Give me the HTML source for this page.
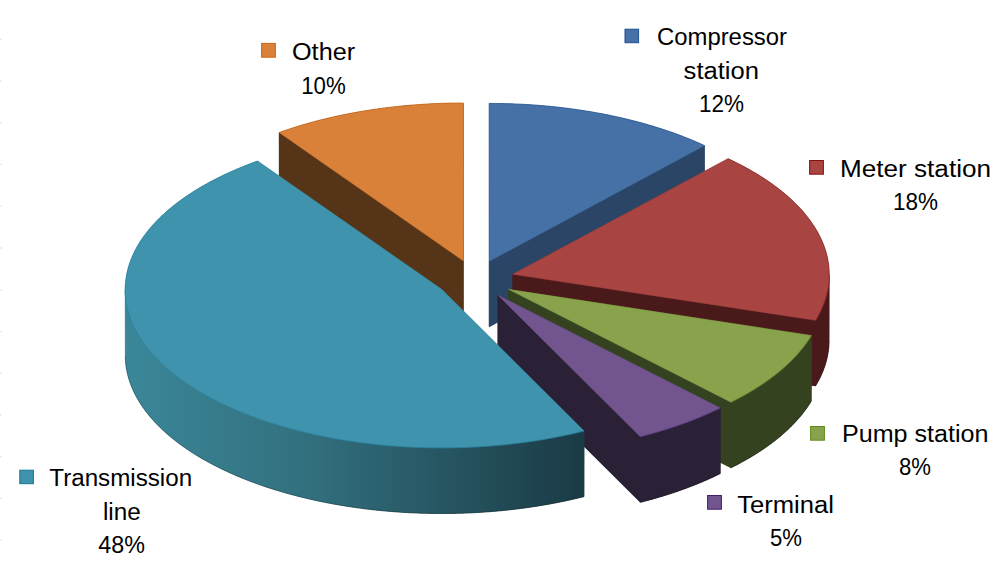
<!DOCTYPE html>
<html><head><meta charset="utf-8"><style>
html,body{margin:0;padding:0;background:#fff;}
svg{display:block;}
text{font-family:"Liberation Sans",sans-serif;font-size:23px;fill:#000;}
</style></head><body>
<svg width="1000" height="574" viewBox="0 0 1000 574">
<defs><linearGradient id="g_teal" gradientUnits="userSpaceOnUse" x1="125" y1="0" x2="585" y2="0"><stop offset="0%" stop-color="#3A8799"/><stop offset="38%" stop-color="#33717F"/><stop offset="100%" stop-color="#1A3A45"/></linearGradient><linearGradient id="g_red" gradientUnits="userSpaceOnUse" x1="125" y1="0" x2="585" y2="0"><stop offset="0%" stop-color="#4A1A1A"/><stop offset="100%" stop-color="#4A1A1A"/></linearGradient><linearGradient id="g_green" gradientUnits="userSpaceOnUse" x1="125" y1="0" x2="585" y2="0"><stop offset="0%" stop-color="#354220"/><stop offset="100%" stop-color="#354220"/></linearGradient><linearGradient id="g_purple" gradientUnits="userSpaceOnUse" x1="125" y1="0" x2="585" y2="0"><stop offset="0%" stop-color="#2A2136"/><stop offset="100%" stop-color="#2A2136"/></linearGradient><linearGradient id="g_blue" gradientUnits="userSpaceOnUse" x1="125" y1="0" x2="585" y2="0"><stop offset="0%" stop-color="#2B4566"/><stop offset="100%" stop-color="#2B4566"/></linearGradient><linearGradient id="g_orange" gradientUnits="userSpaceOnUse" x1="125" y1="0" x2="585" y2="0"><stop offset="0%" stop-color="#553418"/><stop offset="100%" stop-color="#553418"/></linearGradient></defs>
<rect width="1000" height="574" fill="#fff"/>
<rect x="0" y="38.7" width="1.5" height="1.2" fill="#dddddd"/><rect x="0" y="80.5" width="1.5" height="1.2" fill="#dddddd"/><rect x="0" y="122.2" width="1.5" height="1.2" fill="#dddddd"/><rect x="0" y="163.9" width="1.5" height="1.2" fill="#dddddd"/><rect x="0" y="205.7" width="1.5" height="1.2" fill="#dddddd"/><rect x="0" y="247.4" width="1.5" height="1.2" fill="#dddddd"/><rect x="0" y="289.2" width="1.5" height="1.2" fill="#dddddd"/><rect x="0" y="330.9" width="1.5" height="1.2" fill="#dddddd"/><rect x="0" y="372.7" width="1.5" height="1.2" fill="#dddddd"/><rect x="0" y="414.4" width="1.5" height="1.2" fill="#dddddd"/><rect x="0" y="456.2" width="1.5" height="1.2" fill="#dddddd"/><rect x="0" y="497.9" width="1.5" height="1.2" fill="#dddddd"/><rect x="0" y="539.7" width="1.5" height="1.2" fill="#dddddd"/>
<polygon fill="#553418" points="463.18,168.46 463.16,326.26 279.21,197.97 279.15,132.50 281.37,131.71 283.61,130.93 285.87,130.17 288.13,129.41 290.41,128.66 292.70,127.92 295.01,127.19 297.33,126.47 299.66,125.76 302.00,125.06 304.35,124.37 306.72,123.69 309.09,123.02 311.48,122.36 313.88,121.72 316.29,121.08 318.72,120.45 321.15,119.83 323.59,119.23 326.04,118.63 328.51,118.05 330.98,117.47 333.47,116.91 335.96,116.35 338.46,115.81 340.97,115.28 343.49,114.76 346.02,114.25 348.56,113.75 351.11,113.26 353.66,112.78 356.23,112.32 358.80,111.86 361.38,111.42 363.96,110.99 366.56,110.56 369.16,110.15 371.77,109.75 374.38,109.37 377.00,108.99 379.63,108.62 382.26,108.27 384.90,107.93 387.55,107.59 390.20,107.27 392.86,106.97 395.52,106.67 398.19,106.38 400.86,106.11 403.53,105.85 406.22,105.60 408.90,105.36 411.59,105.13 414.28,104.91 416.98,104.71 419.68,104.51 422.38,104.33 425.09,104.16 427.80,104.00 430.51,103.86 433.22,103.72 435.94,103.60 438.66,103.49 441.38,103.39 444.10,103.30 446.82,103.22 449.55,103.16 452.27,103.11 455.00,103.07 457.73,103.04 460.45,103.02 463.18,103.01"/>
<polygon fill="#553418" stroke="#553418" stroke-width="0.6" stroke-linejoin="round" points="463.15,260.71 279.15,132.50 279.21,197.97 463.16,326.26"/>
<polygon fill="#553418" stroke="#553418" stroke-width="0.6" stroke-linejoin="round" points="463.15,260.71 463.18,103.01 463.18,168.46 463.16,326.26"/>
<polygon fill="#D98039" stroke="#D98039" stroke-width="0.5" stroke-linejoin="round" points="463.15,260.71 279.15,132.50 280.27,132.10 281.39,131.71 282.52,131.31 283.64,130.92 284.78,130.53 285.91,130.15 287.05,129.77 288.20,129.39 289.34,129.01 290.49,128.63 291.64,128.26 292.80,127.89 293.96,127.52 295.12,127.15 296.29,126.79 297.46,126.43 298.63,126.07 299.80,125.72 300.98,125.36 302.16,125.01 303.35,124.66 304.53,124.32 305.72,123.98 306.92,123.64 308.11,123.30 309.31,122.96 310.51,122.63 311.72,122.30 312.93,121.97 314.14,121.65 315.35,121.33 316.56,121.01 317.78,120.69 319.00,120.38 320.23,120.07 321.46,119.76 322.68,119.45 323.92,119.15 325.15,118.85 326.39,118.55 327.63,118.25 328.87,117.96 330.12,117.67 331.36,117.38 332.61,117.10 333.87,116.82 335.12,116.54 336.38,116.26 337.64,115.99 338.90,115.72 340.16,115.45 341.43,115.18 342.70,114.92 343.97,114.66 345.24,114.40 346.52,114.15 347.80,113.90 349.08,113.65 350.36,113.40 351.64,113.16 352.93,112.92 354.22,112.68 355.51,112.45 356.80,112.21 358.10,111.99 359.39,111.76 360.69,111.54 361.99,111.31 363.29,111.10 364.60,110.88 365.90,110.67 367.21,110.46 368.52,110.25 369.83,110.05 371.15,109.85 372.46,109.65 373.78,109.45 375.09,109.26 376.41,109.07 377.74,108.89 379.06,108.70 380.38,108.52 381.71,108.34 383.04,108.17 384.37,107.99 385.70,107.83 387.03,107.66 388.36,107.50 389.70,107.33 391.04,107.18 392.37,107.02 393.71,106.87 395.05,106.72 396.40,106.57 397.74,106.43 399.08,106.29 400.43,106.15 401.77,106.02 403.12,105.89 404.47,105.76 405.82,105.63 407.17,105.51 408.52,105.39 409.88,105.27 411.23,105.16 412.59,105.05 413.94,104.94 415.30,104.83 416.66,104.73 418.02,104.63 419.38,104.53 420.74,104.44 422.10,104.35 423.46,104.26 424.82,104.18 426.19,104.10 427.55,104.02 428.92,103.94 430.28,103.87 431.65,103.80 433.01,103.73 434.38,103.67 435.75,103.61 437.12,103.55 438.49,103.49 439.86,103.44 441.23,103.39 442.60,103.35 443.97,103.30 445.34,103.26 446.71,103.23 448.08,103.19 449.45,103.16 450.82,103.13 452.20,103.11 453.57,103.09 454.94,103.07 456.31,103.05 457.69,103.04 459.06,103.03 460.43,103.02 461.81,103.01 463.18,103.01"/>
<polyline fill="none" stroke="#C0600F" stroke-opacity="0.55" stroke-width="0.9" points="279.15,132.50 280.27,132.10 281.39,131.71 282.52,131.31 283.64,130.92 284.78,130.53 285.91,130.15 287.05,129.77 288.20,129.39 289.34,129.01 290.49,128.63 291.64,128.26 292.80,127.89 293.96,127.52 295.12,127.15 296.29,126.79 297.46,126.43 298.63,126.07 299.80,125.72 300.98,125.36 302.16,125.01 303.35,124.66 304.53,124.32 305.72,123.98 306.92,123.64 308.11,123.30 309.31,122.96 310.51,122.63 311.72,122.30 312.93,121.97 314.14,121.65 315.35,121.33 316.56,121.01 317.78,120.69 319.00,120.38 320.23,120.07 321.46,119.76 322.68,119.45 323.92,119.15 325.15,118.85 326.39,118.55 327.63,118.25 328.87,117.96 330.12,117.67 331.36,117.38 332.61,117.10 333.87,116.82 335.12,116.54 336.38,116.26 337.64,115.99 338.90,115.72 340.16,115.45 341.43,115.18 342.70,114.92 343.97,114.66 345.24,114.40 346.52,114.15 347.80,113.90 349.08,113.65 350.36,113.40 351.64,113.16 352.93,112.92 354.22,112.68 355.51,112.45 356.80,112.21 358.10,111.99 359.39,111.76 360.69,111.54 361.99,111.31 363.29,111.10 364.60,110.88 365.90,110.67 367.21,110.46 368.52,110.25 369.83,110.05 371.15,109.85 372.46,109.65 373.78,109.45 375.09,109.26 376.41,109.07 377.74,108.89 379.06,108.70 380.38,108.52 381.71,108.34 383.04,108.17 384.37,107.99 385.70,107.83 387.03,107.66 388.36,107.50 389.70,107.33 391.04,107.18 392.37,107.02 393.71,106.87 395.05,106.72 396.40,106.57 397.74,106.43 399.08,106.29 400.43,106.15 401.77,106.02 403.12,105.89 404.47,105.76 405.82,105.63 407.17,105.51 408.52,105.39 409.88,105.27 411.23,105.16 412.59,105.05 413.94,104.94 415.30,104.83 416.66,104.73 418.02,104.63 419.38,104.53 420.74,104.44 422.10,104.35 423.46,104.26 424.82,104.18 426.19,104.10 427.55,104.02 428.92,103.94 430.28,103.87 431.65,103.80 433.01,103.73 434.38,103.67 435.75,103.61 437.12,103.55 438.49,103.49 439.86,103.44 441.23,103.39 442.60,103.35 443.97,103.30 445.34,103.26 446.71,103.23 448.08,103.19 449.45,103.16 450.82,103.13 452.20,103.11 453.57,103.09 454.94,103.07 456.31,103.05 457.69,103.04 459.06,103.03 460.43,103.02 461.81,103.01 463.18,103.01"/>
<polygon fill="#2B4566" points="489.36,326.68 489.33,168.88 489.34,103.43 492.09,103.43 494.84,103.45 497.59,103.48 500.34,103.52 503.09,103.58 505.83,103.64 508.58,103.72 511.32,103.81 514.07,103.91 516.81,104.02 519.55,104.15 522.28,104.29 525.02,104.44 527.75,104.60 530.48,104.77 533.20,104.95 535.93,105.15 538.65,105.36 541.36,105.58 544.07,105.81 546.78,106.05 549.48,106.31 552.18,106.58 554.87,106.86 557.56,107.15 560.25,107.45 562.92,107.76 565.60,108.09 568.26,108.42 570.92,108.77 573.58,109.13 576.23,109.50 578.87,109.89 581.50,110.28 584.13,110.69 586.75,111.11 589.37,111.53 591.97,111.97 594.57,112.43 597.16,112.89 599.74,113.36 602.32,113.85 604.88,114.34 607.44,114.85 609.99,115.37 612.53,115.90 615.06,116.44 617.58,116.99 620.09,117.55 622.59,118.13 625.08,118.71 627.56,119.31 630.03,119.91 632.48,120.53 634.93,121.16 637.37,121.79 639.80,122.44 642.21,123.10 644.61,123.77 647.01,124.45 649.38,125.14 651.75,125.84 654.11,126.55 656.45,127.27 658.78,128.00 661.10,128.74 663.40,129.50 665.69,130.26 667.97,131.03 670.24,131.81 672.49,132.60 674.72,133.40 676.95,134.21 679.16,135.03 681.35,135.86 683.53,136.70 685.69,137.55 687.85,138.41 689.98,139.27 692.10,140.15 694.21,141.03 696.30,141.93 698.37,142.83 700.43,143.75 702.47,144.67 704.50,145.60 704.43,211.07"/>
<polygon fill="#2B4566" stroke="#2B4566" stroke-width="0.6" stroke-linejoin="round" points="489.37,261.13 489.34,103.43 489.33,168.88 489.36,326.68"/>
<polygon fill="#2B4566" stroke="#2B4566" stroke-width="0.6" stroke-linejoin="round" points="489.37,261.13 704.50,145.60 704.43,211.07 489.36,326.68"/>
<polygon fill="#4571A6" stroke="#4571A6" stroke-width="0.5" stroke-linejoin="round" points="489.37,261.13 489.34,103.43 490.71,103.43 492.09,103.43 493.46,103.44 494.84,103.45 496.21,103.46 497.59,103.48 498.96,103.50 500.34,103.52 501.71,103.55 503.09,103.58 504.46,103.61 505.83,103.64 507.21,103.68 508.58,103.72 509.95,103.76 511.32,103.81 512.70,103.86 514.07,103.91 515.44,103.97 516.81,104.02 518.18,104.09 519.55,104.15 520.92,104.22 522.28,104.29 523.65,104.36 525.02,104.44 526.38,104.51 527.75,104.60 529.12,104.68 530.48,104.77 531.84,104.86 533.20,104.95 534.57,105.05 535.93,105.15 537.29,105.25 538.65,105.36 540.00,105.47 541.36,105.58 542.72,105.69 544.07,105.81 545.43,105.93 546.78,106.05 548.13,106.18 549.48,106.31 550.83,106.44 552.18,106.58 553.53,106.71 554.87,106.86 556.22,107.00 557.56,107.15 558.91,107.30 560.25,107.45 561.59,107.60 562.92,107.76 564.26,107.92 565.60,108.09 566.93,108.25 568.26,108.42 569.59,108.60 570.92,108.77 572.25,108.95 573.58,109.13 574.90,109.32 576.23,109.50 577.55,109.69 578.87,109.89 580.19,110.08 581.50,110.28 582.82,110.48 584.13,110.69 585.44,110.90 586.75,111.11 588.06,111.32 589.37,111.53 590.67,111.75 591.97,111.97 593.27,112.20 594.57,112.43 595.87,112.66 597.16,112.89 598.45,113.12 599.74,113.36 601.03,113.60 602.32,113.85 603.60,114.09 604.88,114.34 606.16,114.60 607.44,114.85 608.71,115.11 609.99,115.37 611.26,115.63 612.53,115.90 613.79,116.17 615.06,116.44 616.32,116.71 617.58,116.99 618.83,117.27 620.09,117.55 621.34,117.84 622.59,118.13 623.83,118.42 625.08,118.71 626.32,119.01 627.56,119.31 628.79,119.61 630.03,119.91 631.26,120.22 632.48,120.53 633.71,120.84 634.93,121.16 636.15,121.47 637.37,121.79 638.58,122.12 639.80,122.44 641.00,122.77 642.21,123.10 643.41,123.43 644.61,123.77 645.81,124.11 647.01,124.45 648.20,124.79 649.38,125.14 650.57,125.49 651.75,125.84 652.93,126.20 654.11,126.55 655.28,126.91 656.45,127.27 657.62,127.64 658.78,128.00 659.94,128.37 661.10,128.74 662.25,129.12 663.40,129.50 664.55,129.88 665.69,130.26 666.83,130.64 667.97,131.03 669.11,131.42 670.24,131.81 671.36,132.20 672.49,132.60 673.61,133.00 674.72,133.40 675.84,133.80 676.95,134.21 678.05,134.62 679.16,135.03 680.25,135.44 681.35,135.86 682.44,136.28 683.53,136.70 684.61,137.12 685.69,137.55 686.77,137.98 687.85,138.41 688.91,138.84 689.98,139.27 691.04,139.71 692.10,140.15 693.16,140.59 694.21,141.03 695.25,141.48 696.30,141.93 697.33,142.38 698.37,142.83 699.40,143.29 700.43,143.75 701.45,144.21 702.47,144.67 703.49,145.13 704.50,145.60"/>
<polyline fill="none" stroke="#1F4F91" stroke-opacity="0.55" stroke-width="0.9" points="489.34,103.43 490.71,103.43 492.09,103.43 493.46,103.44 494.84,103.45 496.21,103.46 497.59,103.48 498.96,103.50 500.34,103.52 501.71,103.55 503.09,103.58 504.46,103.61 505.83,103.64 507.21,103.68 508.58,103.72 509.95,103.76 511.32,103.81 512.70,103.86 514.07,103.91 515.44,103.97 516.81,104.02 518.18,104.09 519.55,104.15 520.92,104.22 522.28,104.29 523.65,104.36 525.02,104.44 526.38,104.51 527.75,104.60 529.12,104.68 530.48,104.77 531.84,104.86 533.20,104.95 534.57,105.05 535.93,105.15 537.29,105.25 538.65,105.36 540.00,105.47 541.36,105.58 542.72,105.69 544.07,105.81 545.43,105.93 546.78,106.05 548.13,106.18 549.48,106.31 550.83,106.44 552.18,106.58 553.53,106.71 554.87,106.86 556.22,107.00 557.56,107.15 558.91,107.30 560.25,107.45 561.59,107.60 562.92,107.76 564.26,107.92 565.60,108.09 566.93,108.25 568.26,108.42 569.59,108.60 570.92,108.77 572.25,108.95 573.58,109.13 574.90,109.32 576.23,109.50 577.55,109.69 578.87,109.89 580.19,110.08 581.50,110.28 582.82,110.48 584.13,110.69 585.44,110.90 586.75,111.11 588.06,111.32 589.37,111.53 590.67,111.75 591.97,111.97 593.27,112.20 594.57,112.43 595.87,112.66 597.16,112.89 598.45,113.12 599.74,113.36 601.03,113.60 602.32,113.85 603.60,114.09 604.88,114.34 606.16,114.60 607.44,114.85 608.71,115.11 609.99,115.37 611.26,115.63 612.53,115.90 613.79,116.17 615.06,116.44 616.32,116.71 617.58,116.99 618.83,117.27 620.09,117.55 621.34,117.84 622.59,118.13 623.83,118.42 625.08,118.71 626.32,119.01 627.56,119.31 628.79,119.61 630.03,119.91 631.26,120.22 632.48,120.53 633.71,120.84 634.93,121.16 636.15,121.47 637.37,121.79 638.58,122.12 639.80,122.44 641.00,122.77 642.21,123.10 643.41,123.43 644.61,123.77 645.81,124.11 647.01,124.45 648.20,124.79 649.38,125.14 650.57,125.49 651.75,125.84 652.93,126.20 654.11,126.55 655.28,126.91 656.45,127.27 657.62,127.64 658.78,128.00 659.94,128.37 661.10,128.74 662.25,129.12 663.40,129.50 664.55,129.88 665.69,130.26 666.83,130.64 667.97,131.03 669.11,131.42 670.24,131.81 671.36,132.20 672.49,132.60 673.61,133.00 674.72,133.40 675.84,133.80 676.95,134.21 678.05,134.62 679.16,135.03 680.25,135.44 681.35,135.86 682.44,136.28 683.53,136.70 684.61,137.12 685.69,137.55 686.77,137.98 687.85,138.41 688.91,138.84 689.98,139.27 691.04,139.71 692.10,140.15 693.16,140.59 694.21,141.03 695.25,141.48 696.30,141.93 697.33,142.38 698.37,142.83 699.40,143.29 700.43,143.75 701.45,144.21 702.47,144.67 703.49,145.13 704.50,145.60"/>
<polygon fill="#4A1A1A" points="815.57,385.91 512.76,339.76 512.77,274.20 727.90,158.63 729.90,159.57 731.88,160.51 733.85,161.46 735.80,162.42 737.73,163.39 739.65,164.36 741.54,165.35 743.43,166.34 745.29,167.34 747.14,168.35 748.97,169.37 750.78,170.39 752.58,171.43 754.35,172.47 756.11,173.51 757.85,174.57 759.57,175.63 761.28,176.70 762.96,177.78 764.63,178.87 766.28,179.96 767.91,181.06 769.52,182.17 771.11,183.28 772.68,184.40 774.23,185.53 775.76,186.66 777.27,187.80 778.77,188.95 780.24,190.10 781.69,191.26 783.13,192.43 784.54,193.60 785.93,194.78 787.30,195.96 788.65,197.15 789.98,198.35 791.29,199.55 792.58,200.75 793.85,201.97 795.10,203.18 796.32,204.41 797.53,205.64 798.71,206.87 799.88,208.11 801.02,209.35 802.13,210.60 803.23,211.86 804.31,213.11 805.36,214.38 806.39,215.65 807.40,216.92 808.39,218.19 809.36,219.47 810.30,220.76 811.22,222.05 812.12,223.34 813.00,224.64 813.85,225.94 814.68,227.24 815.49,228.55 816.28,229.86 817.04,231.18 817.78,232.49 818.50,233.81 819.20,235.14 819.87,236.46 820.52,237.79 821.14,239.13 821.75,240.46 822.33,241.80 822.88,243.14 823.42,244.48 823.93,245.83 824.41,247.18 824.88,248.53 825.32,249.88 825.73,251.23 826.12,252.58 826.49,253.94 826.84,255.30 827.16,256.66 827.46,258.02 827.74,259.38 827.99,260.75 828.22,262.11 828.42,263.48 828.60,264.84 828.76,266.21 828.89,267.58 829.00,268.94 829.09,270.31 829.15,271.68 829.19,273.05 829.20,274.42 829.10,339.97 829.09,341.34 829.06,342.72 829.00,344.09 828.92,345.45 828.82,346.82 828.69,348.19 828.54,349.56 828.36,350.93 828.16,352.30 827.94,353.66 827.69,355.03 827.43,356.39 827.13,357.75 826.81,359.11 826.47,360.47 826.11,361.83 825.72,363.19 825.31,364.55 824.88,365.90 824.42,367.25 823.94,368.60 823.43,369.95 822.90,371.29 822.35,372.63 821.78,373.97 821.18,375.31 820.56,376.65 819.92,377.98 819.25,379.31 818.56,380.64 817.84,381.96 817.11,383.28 816.35,384.60"/>
<polygon fill="#4A1A1A" stroke="#4A1A1A" stroke-width="0.6" stroke-linejoin="round" points="512.77,274.20 815.67,320.33 815.57,385.91 512.76,339.76"/>
<polygon fill="url(#g_red)" stroke="url(#g_red)" stroke-width="0.6" stroke-linejoin="round" points="829.20,274.93 829.20,275.61 829.19,276.30 829.17,276.99 829.14,277.68 829.11,278.36 829.08,279.05 829.04,279.74 828.99,280.43 828.93,281.11 828.88,281.80 828.81,282.49 828.74,283.17 828.66,283.86 828.58,284.54 828.49,285.23 828.39,285.92 828.29,286.60 828.18,287.29 828.07,287.97 827.95,288.66 827.82,289.34 827.69,290.03 827.55,290.71 827.41,291.39 827.26,292.08 827.11,292.76 826.95,293.44 826.78,294.13 826.61,294.81 826.43,295.49 826.24,296.17 826.05,296.85 825.85,297.53 825.65,298.21 825.44,298.89 825.23,299.57 825.01,300.25 824.78,300.93 824.55,301.61 824.31,302.28 824.07,302.96 823.82,303.64 823.56,304.31 823.30,304.99 823.03,305.66 822.76,306.34 822.48,307.01 822.19,307.68 821.90,308.35 821.61,309.03 821.30,309.70 820.99,310.37 820.68,311.04 820.36,311.70 820.03,312.37 819.70,313.04 819.36,313.71 819.02,314.37 818.67,315.04 818.32,315.70 817.96,316.37 817.59,317.03 817.22,317.69 816.84,318.35 816.45,319.01 816.06,319.67 815.67,320.33 815.57,385.91 815.96,385.25 816.35,384.59 816.74,383.93 817.11,383.27 817.49,382.61 817.85,381.95 818.21,381.28 818.57,380.62 818.92,379.95 819.26,379.28 819.60,378.62 819.93,377.95 820.26,377.28 820.58,376.61 820.89,375.94 821.20,375.27 821.50,374.60 821.80,373.93 822.09,373.26 822.38,372.58 822.65,371.91 822.93,371.23 823.20,370.56 823.46,369.88 823.71,369.21 823.96,368.53 824.21,367.85 824.44,367.18 824.68,366.50 824.90,365.82 825.12,365.14 825.34,364.46 825.55,363.78 825.75,363.10 825.95,362.42 826.14,361.74 826.32,361.06 826.50,360.37 826.67,359.69 826.84,359.01 827.00,358.33 827.16,357.64 827.31,356.96 827.45,356.27 827.59,355.59 827.72,354.90 827.84,354.22 827.96,353.53 828.08,352.85 828.18,352.16 828.29,351.48 828.38,350.79 828.47,350.10 828.55,349.42 828.63,348.73 828.70,348.04 828.77,347.36 828.83,346.67 828.88,345.98 828.93,345.30 828.97,344.61 829.01,343.92 829.04,343.23 829.06,342.54 829.08,341.86 829.09,341.17 829.10,340.48"/>
<polyline fill="none" stroke="#000" stroke-opacity="0.3" stroke-width="0.8" points="815.57,385.91 815.96,385.25 816.35,384.59 816.74,383.93 817.11,383.27 817.49,382.61 817.85,381.95 818.21,381.28 818.57,380.62 818.92,379.95 819.26,379.28 819.60,378.62 819.93,377.95 820.26,377.28 820.58,376.61 820.89,375.94 821.20,375.27 821.50,374.60 821.80,373.93 822.09,373.26 822.38,372.58 822.65,371.91 822.93,371.23 823.20,370.56 823.46,369.88 823.71,369.21 823.96,368.53 824.21,367.85 824.44,367.18 824.68,366.50 824.90,365.82 825.12,365.14 825.34,364.46 825.55,363.78 825.75,363.10 825.95,362.42 826.14,361.74 826.32,361.06 826.50,360.37 826.67,359.69 826.84,359.01 827.00,358.33 827.16,357.64 827.31,356.96 827.45,356.27 827.59,355.59 827.72,354.90 827.84,354.22 827.96,353.53 828.08,352.85 828.18,352.16 828.29,351.48 828.38,350.79 828.47,350.10 828.55,349.42 828.63,348.73 828.70,348.04 828.77,347.36 828.83,346.67 828.88,345.98 828.93,345.30 828.97,344.61 829.01,343.92 829.04,343.23 829.06,342.54 829.08,341.86 829.09,341.17 829.10,340.48"/>
<polygon fill="#A84543" stroke="#A84543" stroke-width="0.5" stroke-linejoin="round" points="512.77,274.20 727.90,158.63 728.90,159.10 729.91,159.57 730.90,160.04 731.90,160.52 732.88,160.99 733.87,161.47 734.85,161.95 735.83,162.43 736.80,162.92 737.77,163.41 738.73,163.90 739.69,164.39 740.64,164.88 741.60,165.38 742.54,165.87 743.48,166.37 744.42,166.87 745.36,167.38 746.29,167.88 747.21,168.39 748.13,168.90 749.05,169.41 749.96,169.93 750.87,170.44 751.77,170.96 752.67,171.48 753.56,172.00 754.45,172.52 755.33,173.05 756.21,173.58 757.09,174.11 757.96,174.64 758.83,175.17 759.69,175.70 760.54,176.24 761.40,176.78 762.24,177.32 763.09,177.86 763.93,178.41 764.76,178.95 765.59,179.50 766.41,180.05 767.23,180.60 768.05,181.15 768.85,181.71 769.66,182.26 770.46,182.82 771.25,183.38 772.04,183.95 772.83,184.51 773.61,185.07 774.39,185.64 775.16,186.21 775.92,186.78 776.68,187.35 777.44,187.92 778.19,188.50 778.93,189.08 779.68,189.66 780.41,190.24 781.14,190.82 781.87,191.40 782.59,191.98 783.30,192.57 784.01,193.16 784.72,193.75 785.42,194.34 786.11,194.93 786.80,195.53 787.49,196.12 788.17,196.72 788.84,197.32 789.51,197.92 790.17,198.52 790.83,199.12 791.49,199.72 792.13,200.33 792.78,200.94 793.41,201.55 794.05,202.16 794.67,202.77 795.30,203.38 795.91,203.99 796.52,204.61 797.13,205.22 797.73,205.84 798.32,206.46 798.91,207.08 799.50,207.70 800.08,208.33 800.65,208.95 801.22,209.58 801.78,210.20 802.34,210.83 802.89,211.46 803.43,212.09 803.98,212.72 804.51,213.36 805.04,213.99 805.56,214.62 806.08,215.26 806.60,215.90 807.10,216.54 807.61,217.18 808.10,217.82 808.59,218.46 809.08,219.10 809.56,219.74 810.03,220.39 810.50,221.03 810.96,221.68 811.42,222.33 811.87,222.98 812.32,223.63 812.76,224.28 813.19,224.93 813.62,225.58 814.04,226.24 814.46,226.89 814.87,227.55 815.28,228.20 815.68,228.86 816.08,229.52 816.46,230.18 816.85,230.84 817.23,231.50 817.60,232.16 817.96,232.82 818.32,233.48 818.68,234.15 819.03,234.81 819.37,235.48 819.71,236.14 820.04,236.81 820.36,237.48 820.68,238.15 821.00,238.82 821.31,239.49 821.61,240.16 821.91,240.83 822.20,241.50 822.48,242.17 822.76,242.84 823.03,243.52 823.30,244.19 823.56,244.87 823.82,245.54 824.07,246.22 824.31,246.89 824.55,247.57 824.78,248.25 825.01,248.92 825.23,249.60 825.44,250.28 825.65,250.96 825.85,251.64 826.05,252.32 826.24,253.00 826.43,253.68 826.60,254.36 826.78,255.05 826.94,255.73 827.11,256.41 827.26,257.09 827.41,257.78 827.55,258.46 827.69,259.14 827.82,259.83 827.95,260.51 828.07,261.20 828.18,261.88 828.29,262.57 828.39,263.25 828.49,263.94 828.58,264.62 828.66,265.31 828.74,266.00 828.81,266.68 828.87,267.37 828.93,268.06 828.99,268.74 829.04,269.43 829.08,270.12 829.11,270.80 829.14,271.49 829.17,272.18 829.19,272.87 829.20,273.55 829.20,274.24 829.20,274.93 829.20,275.61 829.19,276.30 829.17,276.99 829.14,277.68 829.11,278.36 829.08,279.05 829.04,279.74 828.99,280.43 828.93,281.11 828.88,281.80 828.81,282.49 828.74,283.17 828.66,283.86 828.58,284.54 828.49,285.23 828.39,285.92 828.29,286.60 828.18,287.29 828.07,287.97 827.95,288.66 827.82,289.34 827.69,290.03 827.55,290.71 827.41,291.39 827.26,292.08 827.11,292.76 826.95,293.44 826.78,294.13 826.61,294.81 826.43,295.49 826.24,296.17 826.05,296.85 825.85,297.53 825.65,298.21 825.44,298.89 825.23,299.57 825.01,300.25 824.78,300.93 824.55,301.61 824.31,302.28 824.07,302.96 823.82,303.64 823.56,304.31 823.30,304.99 823.03,305.66 822.76,306.34 822.48,307.01 822.19,307.68 821.90,308.35 821.61,309.03 821.30,309.70 820.99,310.37 820.68,311.04 820.36,311.70 820.03,312.37 819.70,313.04 819.36,313.71 819.02,314.37 818.67,315.04 818.32,315.70 817.96,316.37 817.59,317.03 817.22,317.69 816.84,318.35 816.45,319.01 816.06,319.67 815.67,320.33"/>
<polyline fill="none" stroke="#8A1818" stroke-opacity="0.55" stroke-width="0.9" points="727.90,158.63 728.90,159.10 729.91,159.57 730.90,160.04 731.90,160.52 732.88,160.99 733.87,161.47 734.85,161.95 735.83,162.43 736.80,162.92 737.77,163.41 738.73,163.90 739.69,164.39 740.64,164.88 741.60,165.38 742.54,165.87 743.48,166.37 744.42,166.87 745.36,167.38 746.29,167.88 747.21,168.39 748.13,168.90 749.05,169.41 749.96,169.93 750.87,170.44 751.77,170.96 752.67,171.48 753.56,172.00 754.45,172.52 755.33,173.05 756.21,173.58 757.09,174.11 757.96,174.64 758.83,175.17 759.69,175.70 760.54,176.24 761.40,176.78 762.24,177.32 763.09,177.86 763.93,178.41 764.76,178.95 765.59,179.50 766.41,180.05 767.23,180.60 768.05,181.15 768.85,181.71 769.66,182.26 770.46,182.82 771.25,183.38 772.04,183.95 772.83,184.51 773.61,185.07 774.39,185.64 775.16,186.21 775.92,186.78 776.68,187.35 777.44,187.92 778.19,188.50 778.93,189.08 779.68,189.66 780.41,190.24 781.14,190.82 781.87,191.40 782.59,191.98 783.30,192.57 784.01,193.16 784.72,193.75 785.42,194.34 786.11,194.93 786.80,195.53 787.49,196.12 788.17,196.72 788.84,197.32 789.51,197.92 790.17,198.52 790.83,199.12 791.49,199.72 792.13,200.33 792.78,200.94 793.41,201.55 794.05,202.16 794.67,202.77 795.30,203.38 795.91,203.99 796.52,204.61 797.13,205.22 797.73,205.84 798.32,206.46 798.91,207.08 799.50,207.70 800.08,208.33 800.65,208.95 801.22,209.58 801.78,210.20 802.34,210.83 802.89,211.46 803.43,212.09 803.98,212.72 804.51,213.36 805.04,213.99 805.56,214.62 806.08,215.26 806.60,215.90 807.10,216.54 807.61,217.18 808.10,217.82 808.59,218.46 809.08,219.10 809.56,219.74 810.03,220.39 810.50,221.03 810.96,221.68 811.42,222.33 811.87,222.98 812.32,223.63 812.76,224.28 813.19,224.93 813.62,225.58 814.04,226.24 814.46,226.89 814.87,227.55 815.28,228.20 815.68,228.86 816.08,229.52 816.46,230.18 816.85,230.84 817.23,231.50 817.60,232.16 817.96,232.82 818.32,233.48 818.68,234.15 819.03,234.81 819.37,235.48 819.71,236.14 820.04,236.81 820.36,237.48 820.68,238.15 821.00,238.82 821.31,239.49 821.61,240.16 821.91,240.83 822.20,241.50 822.48,242.17 822.76,242.84 823.03,243.52 823.30,244.19 823.56,244.87 823.82,245.54 824.07,246.22 824.31,246.89 824.55,247.57 824.78,248.25 825.01,248.92 825.23,249.60 825.44,250.28 825.65,250.96 825.85,251.64 826.05,252.32 826.24,253.00 826.43,253.68 826.60,254.36 826.78,255.05 826.94,255.73 827.11,256.41 827.26,257.09 827.41,257.78 827.55,258.46 827.69,259.14 827.82,259.83 827.95,260.51 828.07,261.20 828.18,261.88 828.29,262.57 828.39,263.25 828.49,263.94 828.58,264.62 828.66,265.31 828.74,266.00 828.81,266.68 828.87,267.37 828.93,268.06 828.99,268.74 829.04,269.43 829.08,270.12 829.11,270.80 829.14,271.49 829.17,272.18 829.19,272.87 829.20,273.55 829.20,274.24 829.20,274.93 829.20,275.61 829.19,276.30 829.17,276.99 829.14,277.68 829.11,278.36 829.08,279.05 829.04,279.74 828.99,280.43 828.93,281.11 828.88,281.80 828.81,282.49 828.74,283.17 828.66,283.86 828.58,284.54 828.49,285.23 828.39,285.92 828.29,286.60 828.18,287.29 828.07,287.97 827.95,288.66 827.82,289.34 827.69,290.03 827.55,290.71 827.41,291.39 827.26,292.08 827.11,292.76 826.95,293.44 826.78,294.13 826.61,294.81 826.43,295.49 826.24,296.17 826.05,296.85 825.85,297.53 825.65,298.21 825.44,298.89 825.23,299.57 825.01,300.25 824.78,300.93 824.55,301.61 824.31,302.28 824.07,302.96 823.82,303.64 823.56,304.31 823.30,304.99 823.03,305.66 822.76,306.34 822.48,307.01 822.19,307.68 821.90,308.35 821.61,309.03 821.30,309.70 820.99,310.37 820.68,311.04 820.36,311.70 820.03,312.37 819.70,313.04 819.36,313.71 819.02,314.37 818.67,315.04 818.32,315.70 817.96,316.37 817.59,317.03 817.22,317.69 816.84,318.35 816.45,319.01 816.06,319.67 815.67,320.33"/>
<polygon fill="#354220" points="730.93,467.84 508.47,354.93 508.48,289.37 811.44,335.51 811.34,401.10 810.53,402.42 809.69,403.74 808.84,405.05 807.96,406.36 807.06,407.67 806.13,408.97 805.18,410.26 804.21,411.56 803.22,412.84 802.21,414.13 801.17,415.41 800.11,416.68 799.03,417.95 797.92,419.22 796.80,420.48 795.65,421.74 794.48,422.99 793.29,424.23 792.08,425.47 790.84,426.71 789.58,427.94 788.31,429.16 787.01,430.38 785.69,431.59 784.34,432.80 782.98,434.00 781.60,435.20 780.19,436.38 778.77,437.57 777.32,438.74 775.86,439.91 774.37,441.08 772.86,442.24 771.34,443.39 769.79,444.53 768.22,445.67 766.64,446.80 765.03,447.92 763.40,449.04 761.76,450.15 760.09,451.25 758.41,452.35 756.70,453.43 754.98,454.51 753.24,455.59 751.48,456.65 749.70,457.71 747.91,458.76 746.09,459.80 744.26,460.83 742.41,461.86 740.54,462.87 738.65,463.88 736.75,464.88 734.83,465.88 732.89,466.86"/>
<polygon fill="#354220" stroke="#354220" stroke-width="0.6" stroke-linejoin="round" points="508.48,289.37 731.01,402.21 730.93,467.84 508.47,354.93"/>
<polygon fill="url(#g_green)" stroke="url(#g_green)" stroke-width="0.6" stroke-linejoin="round" points="811.44,335.51 811.03,336.17 810.63,336.83 810.21,337.49 809.79,338.15 809.37,338.80 808.94,339.46 808.50,340.11 808.06,340.77 807.61,341.42 807.16,342.07 806.70,342.72 806.23,343.37 805.76,344.02 805.28,344.67 804.80,345.31 804.31,345.96 803.82,346.60 803.32,347.25 802.82,347.89 802.30,348.53 801.79,349.17 801.27,349.81 800.74,350.45 800.21,351.08 799.67,351.72 799.13,352.35 798.58,352.99 798.02,353.62 797.46,354.25 796.89,354.88 796.32,355.51 795.75,356.13 795.16,356.76 794.58,357.38 793.98,358.01 793.38,358.63 792.78,359.25 792.17,359.87 791.56,360.48 790.94,361.10 790.31,361.72 789.68,362.33 789.04,362.94 788.40,363.55 787.75,364.16 787.10,364.77 786.44,365.38 785.78,365.98 785.11,366.59 784.44,367.19 783.76,367.79 783.07,368.39 782.39,368.99 781.69,369.58 780.99,370.18 780.29,370.77 779.58,371.37 778.86,371.96 778.14,372.54 777.41,373.13 776.68,373.72 775.95,374.30 775.21,374.88 774.46,375.46 773.71,376.04 772.95,376.62 772.19,377.20 771.43,377.77 770.65,378.34 769.88,378.91 769.10,379.48 768.31,380.05 767.52,380.62 766.72,381.18 765.92,381.74 765.12,382.30 764.30,382.86 763.49,383.42 762.67,383.98 761.84,384.53 761.01,385.08 760.18,385.63 759.34,386.18 758.49,386.72 757.64,387.27 756.79,387.81 755.93,388.35 755.07,388.89 754.20,389.43 753.33,389.96 752.45,390.50 751.56,391.03 750.68,391.56 749.79,392.08 748.89,392.61 747.99,393.13 747.08,393.65 746.17,394.17 745.26,394.69 744.34,395.21 743.42,395.72 742.49,396.23 741.56,396.74 740.62,397.25 739.68,397.75 738.73,398.26 737.78,398.76 736.83,399.26 735.87,399.75 734.90,400.25 733.94,400.74 732.97,401.23 731.99,401.72 731.01,402.21 730.93,467.84 731.91,467.35 732.89,466.86 733.86,466.37 734.83,465.88 735.79,465.38 736.75,464.88 737.70,464.38 738.65,463.88 739.60,463.38 740.54,462.87 741.48,462.37 742.41,461.86 743.34,461.35 744.26,460.83 745.18,460.32 746.09,459.80 747.00,459.28 747.91,458.76 748.81,458.23 749.70,457.71 750.60,457.18 751.48,456.65 752.36,456.12 753.24,455.59 754.11,455.05 754.98,454.51 755.85,453.97 756.70,453.43 757.56,452.89 758.41,452.35 759.25,451.80 760.09,451.25 760.93,450.70 761.76,450.15 762.58,449.59 763.40,449.04 764.22,448.48 765.03,447.92 765.83,447.36 766.64,446.80 767.43,446.23 768.22,445.67 769.01,445.10 769.79,444.53 770.57,443.96 771.34,443.39 772.10,442.81 772.86,442.24 773.62,441.66 774.37,441.08 775.12,440.50 775.86,439.91 776.59,439.33 777.32,438.74 778.05,438.16 778.77,437.57 779.48,436.98 780.19,436.38 780.90,435.79 781.60,435.20 782.29,434.60 782.98,434.00 783.67,433.40 784.34,432.80 785.02,432.20 785.69,431.59 786.35,430.99 787.01,430.38 787.66,429.77 788.31,429.16 788.95,428.55 789.58,427.94 790.22,427.32 790.84,426.71 791.46,426.09 792.08,425.47 792.68,424.85 793.29,424.23 793.89,423.61 794.48,422.99 795.07,422.36 795.65,421.74 796.23,421.11 796.80,420.48 797.36,419.85 797.92,419.22 798.48,418.59 799.03,417.95 799.57,417.32 800.11,416.68 800.64,416.05 801.17,415.41 801.69,414.77 802.21,414.13 802.72,413.49 803.22,412.84 803.72,412.20 804.21,411.56 804.70,410.91 805.18,410.26 805.66,409.62 806.13,408.97 806.60,408.32 807.06,407.67 807.51,407.01 807.96,406.36 808.40,405.71 808.84,405.05 809.27,404.40 809.69,403.74 810.11,403.08 810.53,402.42 810.93,401.76 811.34,401.10"/>
<polyline fill="none" stroke="#000" stroke-opacity="0.3" stroke-width="0.8" points="730.93,467.84 731.91,467.35 732.89,466.86 733.86,466.37 734.83,465.88 735.79,465.38 736.75,464.88 737.70,464.38 738.65,463.88 739.60,463.38 740.54,462.87 741.48,462.37 742.41,461.86 743.34,461.35 744.26,460.83 745.18,460.32 746.09,459.80 747.00,459.28 747.91,458.76 748.81,458.23 749.70,457.71 750.60,457.18 751.48,456.65 752.36,456.12 753.24,455.59 754.11,455.05 754.98,454.51 755.85,453.97 756.70,453.43 757.56,452.89 758.41,452.35 759.25,451.80 760.09,451.25 760.93,450.70 761.76,450.15 762.58,449.59 763.40,449.04 764.22,448.48 765.03,447.92 765.83,447.36 766.64,446.80 767.43,446.23 768.22,445.67 769.01,445.10 769.79,444.53 770.57,443.96 771.34,443.39 772.10,442.81 772.86,442.24 773.62,441.66 774.37,441.08 775.12,440.50 775.86,439.91 776.59,439.33 777.32,438.74 778.05,438.16 778.77,437.57 779.48,436.98 780.19,436.38 780.90,435.79 781.60,435.20 782.29,434.60 782.98,434.00 783.67,433.40 784.34,432.80 785.02,432.20 785.69,431.59 786.35,430.99 787.01,430.38 787.66,429.77 788.31,429.16 788.95,428.55 789.58,427.94 790.22,427.32 790.84,426.71 791.46,426.09 792.08,425.47 792.68,424.85 793.29,424.23 793.89,423.61 794.48,422.99 795.07,422.36 795.65,421.74 796.23,421.11 796.80,420.48 797.36,419.85 797.92,419.22 798.48,418.59 799.03,417.95 799.57,417.32 800.11,416.68 800.64,416.05 801.17,415.41 801.69,414.77 802.21,414.13 802.72,413.49 803.22,412.84 803.72,412.20 804.21,411.56 804.70,410.91 805.18,410.26 805.66,409.62 806.13,408.97 806.60,408.32 807.06,407.67 807.51,407.01 807.96,406.36 808.40,405.71 808.84,405.05 809.27,404.40 809.69,403.74 810.11,403.08 810.53,402.42 810.93,401.76 811.34,401.10"/>
<polygon fill="#89A34C" stroke="#89A34C" stroke-width="0.5" stroke-linejoin="round" points="508.48,289.37 811.44,335.51 811.03,336.17 810.63,336.83 810.21,337.49 809.79,338.15 809.37,338.80 808.94,339.46 808.50,340.11 808.06,340.77 807.61,341.42 807.16,342.07 806.70,342.72 806.23,343.37 805.76,344.02 805.28,344.67 804.80,345.31 804.31,345.96 803.82,346.60 803.32,347.25 802.82,347.89 802.30,348.53 801.79,349.17 801.27,349.81 800.74,350.45 800.21,351.08 799.67,351.72 799.13,352.35 798.58,352.99 798.02,353.62 797.46,354.25 796.89,354.88 796.32,355.51 795.75,356.13 795.16,356.76 794.58,357.38 793.98,358.01 793.38,358.63 792.78,359.25 792.17,359.87 791.56,360.48 790.94,361.10 790.31,361.72 789.68,362.33 789.04,362.94 788.40,363.55 787.75,364.16 787.10,364.77 786.44,365.38 785.78,365.98 785.11,366.59 784.44,367.19 783.76,367.79 783.07,368.39 782.39,368.99 781.69,369.58 780.99,370.18 780.29,370.77 779.58,371.37 778.86,371.96 778.14,372.54 777.41,373.13 776.68,373.72 775.95,374.30 775.21,374.88 774.46,375.46 773.71,376.04 772.95,376.62 772.19,377.20 771.43,377.77 770.65,378.34 769.88,378.91 769.10,379.48 768.31,380.05 767.52,380.62 766.72,381.18 765.92,381.74 765.12,382.30 764.30,382.86 763.49,383.42 762.67,383.98 761.84,384.53 761.01,385.08 760.18,385.63 759.34,386.18 758.49,386.72 757.64,387.27 756.79,387.81 755.93,388.35 755.07,388.89 754.20,389.43 753.33,389.96 752.45,390.50 751.56,391.03 750.68,391.56 749.79,392.08 748.89,392.61 747.99,393.13 747.08,393.65 746.17,394.17 745.26,394.69 744.34,395.21 743.42,395.72 742.49,396.23 741.56,396.74 740.62,397.25 739.68,397.75 738.73,398.26 737.78,398.76 736.83,399.26 735.87,399.75 734.90,400.25 733.94,400.74 732.97,401.23 731.99,401.72 731.01,402.21"/>
<polyline fill="none" stroke="#4E7018" stroke-opacity="0.55" stroke-width="0.9" points="811.44,335.51 811.03,336.17 810.63,336.83 810.21,337.49 809.79,338.15 809.37,338.80 808.94,339.46 808.50,340.11 808.06,340.77 807.61,341.42 807.16,342.07 806.70,342.72 806.23,343.37 805.76,344.02 805.28,344.67 804.80,345.31 804.31,345.96 803.82,346.60 803.32,347.25 802.82,347.89 802.30,348.53 801.79,349.17 801.27,349.81 800.74,350.45 800.21,351.08 799.67,351.72 799.13,352.35 798.58,352.99 798.02,353.62 797.46,354.25 796.89,354.88 796.32,355.51 795.75,356.13 795.16,356.76 794.58,357.38 793.98,358.01 793.38,358.63 792.78,359.25 792.17,359.87 791.56,360.48 790.94,361.10 790.31,361.72 789.68,362.33 789.04,362.94 788.40,363.55 787.75,364.16 787.10,364.77 786.44,365.38 785.78,365.98 785.11,366.59 784.44,367.19 783.76,367.79 783.07,368.39 782.39,368.99 781.69,369.58 780.99,370.18 780.29,370.77 779.58,371.37 778.86,371.96 778.14,372.54 777.41,373.13 776.68,373.72 775.95,374.30 775.21,374.88 774.46,375.46 773.71,376.04 772.95,376.62 772.19,377.20 771.43,377.77 770.65,378.34 769.88,378.91 769.10,379.48 768.31,380.05 767.52,380.62 766.72,381.18 765.92,381.74 765.12,382.30 764.30,382.86 763.49,383.42 762.67,383.98 761.84,384.53 761.01,385.08 760.18,385.63 759.34,386.18 758.49,386.72 757.64,387.27 756.79,387.81 755.93,388.35 755.07,388.89 754.20,389.43 753.33,389.96 752.45,390.50 751.56,391.03 750.68,391.56 749.79,392.08 748.89,392.61 747.99,393.13 747.08,393.65 746.17,394.17 745.26,394.69 744.34,395.21 743.42,395.72 742.49,396.23 741.56,396.74 740.62,397.25 739.68,397.75 738.73,398.26 737.78,398.76 736.83,399.26 735.87,399.75 734.90,400.25 733.94,400.74 732.97,401.23 731.99,401.72 731.01,402.21"/>
<polygon fill="#2A2136" points="640.30,502.37 497.82,360.68 497.83,295.12 720.36,407.98 720.29,473.61 718.33,474.57 716.35,475.52 714.35,476.47 712.34,477.40 710.31,478.33 708.27,479.25 706.21,480.16 704.14,481.06 702.04,481.95 699.94,482.83 697.82,483.71 695.68,484.57 693.53,485.43 691.36,486.27 689.18,487.11 686.98,487.93 684.77,488.75 682.55,489.56 680.31,490.35 678.06,491.14 675.79,491.92 673.52,492.69 671.22,493.45 668.92,494.19 666.60,494.93 664.27,495.66 661.93,496.38 659.57,497.09 657.20,497.78 654.82,498.47 652.43,499.15 650.03,499.81 647.61,500.47 645.18,501.11 642.75,501.75"/>
<polygon fill="#2A2136" stroke="#2A2136" stroke-width="0.6" stroke-linejoin="round" points="497.83,295.12 640.35,436.72 640.30,502.37 497.82,360.68"/>
<polygon fill="url(#g_purple)" stroke="url(#g_purple)" stroke-width="0.6" stroke-linejoin="round" points="720.36,407.98 719.38,408.46 718.40,408.94 717.41,409.41 716.42,409.89 715.43,410.36 714.43,410.83 713.42,411.30 712.41,411.77 711.40,412.23 710.39,412.70 709.37,413.16 708.34,413.61 707.31,414.07 706.28,414.52 705.24,414.97 704.20,415.42 703.16,415.87 702.11,416.31 701.06,416.75 700.01,417.19 698.95,417.63 697.88,418.07 696.82,418.50 695.75,418.93 694.67,419.36 693.59,419.78 692.51,420.21 691.43,420.63 690.34,421.05 689.24,421.46 688.15,421.88 687.05,422.29 685.94,422.70 684.84,423.11 683.73,423.51 682.61,423.91 681.49,424.31 680.37,424.71 679.25,425.11 678.12,425.50 676.99,425.89 675.85,426.28 674.72,426.66 673.58,427.04 672.43,427.42 671.28,427.80 670.13,428.18 668.98,428.55 667.82,428.92 666.66,429.29 665.49,429.65 664.33,430.01 663.16,430.37 661.98,430.73 660.80,431.09 659.62,431.44 658.44,431.79 657.26,432.13 656.07,432.48 654.87,432.82 653.68,433.16 652.48,433.50 651.28,433.83 650.08,434.16 648.87,434.49 647.66,434.82 646.45,435.14 645.23,435.46 644.02,435.78 642.80,436.10 641.57,436.41 640.35,436.72 640.30,502.37 641.52,502.06 642.75,501.75 643.97,501.43 645.18,501.11 646.40,500.79 647.61,500.47 648.82,500.14 650.03,499.81 651.23,499.48 652.43,499.15 653.63,498.81 654.82,498.47 656.01,498.13 657.20,497.78 658.39,497.44 659.57,497.09 660.75,496.73 661.93,496.38 663.10,496.02 664.27,495.66 665.44,495.30 666.60,494.93 667.76,494.56 668.92,494.19 670.07,493.82 671.22,493.45 672.37,493.07 673.52,492.69 674.66,492.31 675.79,491.92 676.93,491.53 678.06,491.14 679.19,490.75 680.31,490.35 681.43,489.96 682.55,489.56 683.66,489.15 684.77,488.75 685.88,488.34 686.98,487.93 688.08,487.52 689.18,487.11 690.27,486.69 691.36,486.27 692.45,485.85 693.53,485.43 694.61,485.00 695.68,484.57 696.75,484.14 697.82,483.71 698.88,483.27 699.94,482.83 700.99,482.39 702.04,481.95 703.09,481.51 704.14,481.06 705.18,480.61 706.21,480.16 707.24,479.71 708.27,479.25 709.29,478.79 710.31,478.33 711.33,477.87 712.34,477.40 713.35,476.94 714.35,476.47 715.35,476.00 716.35,475.52 717.34,475.05 718.33,474.57 719.31,474.09 720.29,473.61"/>
<polyline fill="none" stroke="#000" stroke-opacity="0.3" stroke-width="0.8" points="640.30,502.37 641.52,502.06 642.75,501.75 643.97,501.43 645.18,501.11 646.40,500.79 647.61,500.47 648.82,500.14 650.03,499.81 651.23,499.48 652.43,499.15 653.63,498.81 654.82,498.47 656.01,498.13 657.20,497.78 658.39,497.44 659.57,497.09 660.75,496.73 661.93,496.38 663.10,496.02 664.27,495.66 665.44,495.30 666.60,494.93 667.76,494.56 668.92,494.19 670.07,493.82 671.22,493.45 672.37,493.07 673.52,492.69 674.66,492.31 675.79,491.92 676.93,491.53 678.06,491.14 679.19,490.75 680.31,490.35 681.43,489.96 682.55,489.56 683.66,489.15 684.77,488.75 685.88,488.34 686.98,487.93 688.08,487.52 689.18,487.11 690.27,486.69 691.36,486.27 692.45,485.85 693.53,485.43 694.61,485.00 695.68,484.57 696.75,484.14 697.82,483.71 698.88,483.27 699.94,482.83 700.99,482.39 702.04,481.95 703.09,481.51 704.14,481.06 705.18,480.61 706.21,480.16 707.24,479.71 708.27,479.25 709.29,478.79 710.31,478.33 711.33,477.87 712.34,477.40 713.35,476.94 714.35,476.47 715.35,476.00 716.35,475.52 717.34,475.05 718.33,474.57 719.31,474.09 720.29,473.61"/>
<polygon fill="#72558F" stroke="#72558F" stroke-width="0.5" stroke-linejoin="round" points="497.83,295.12 720.36,407.98 719.38,408.46 718.40,408.94 717.41,409.41 716.42,409.89 715.43,410.36 714.43,410.83 713.42,411.30 712.41,411.77 711.40,412.23 710.39,412.70 709.37,413.16 708.34,413.61 707.31,414.07 706.28,414.52 705.24,414.97 704.20,415.42 703.16,415.87 702.11,416.31 701.06,416.75 700.01,417.19 698.95,417.63 697.88,418.07 696.82,418.50 695.75,418.93 694.67,419.36 693.59,419.78 692.51,420.21 691.43,420.63 690.34,421.05 689.24,421.46 688.15,421.88 687.05,422.29 685.94,422.70 684.84,423.11 683.73,423.51 682.61,423.91 681.49,424.31 680.37,424.71 679.25,425.11 678.12,425.50 676.99,425.89 675.85,426.28 674.72,426.66 673.58,427.04 672.43,427.42 671.28,427.80 670.13,428.18 668.98,428.55 667.82,428.92 666.66,429.29 665.49,429.65 664.33,430.01 663.16,430.37 661.98,430.73 660.80,431.09 659.62,431.44 658.44,431.79 657.26,432.13 656.07,432.48 654.87,432.82 653.68,433.16 652.48,433.50 651.28,433.83 650.08,434.16 648.87,434.49 647.66,434.82 646.45,435.14 645.23,435.46 644.02,435.78 642.80,436.10 641.57,436.41 640.35,436.72"/>
<polyline fill="none" stroke="#4A2A78" stroke-opacity="0.55" stroke-width="0.9" points="720.36,407.98 719.38,408.46 718.40,408.94 717.41,409.41 716.42,409.89 715.43,410.36 714.43,410.83 713.42,411.30 712.41,411.77 711.40,412.23 710.39,412.70 709.37,413.16 708.34,413.61 707.31,414.07 706.28,414.52 705.24,414.97 704.20,415.42 703.16,415.87 702.11,416.31 701.06,416.75 700.01,417.19 698.95,417.63 697.88,418.07 696.82,418.50 695.75,418.93 694.67,419.36 693.59,419.78 692.51,420.21 691.43,420.63 690.34,421.05 689.24,421.46 688.15,421.88 687.05,422.29 685.94,422.70 684.84,423.11 683.73,423.51 682.61,423.91 681.49,424.31 680.37,424.71 679.25,425.11 678.12,425.50 676.99,425.89 675.85,426.28 674.72,426.66 673.58,427.04 672.43,427.42 671.28,427.80 670.13,428.18 668.98,428.55 667.82,428.92 666.66,429.29 665.49,429.65 664.33,430.01 663.16,430.37 661.98,430.73 660.80,431.09 659.62,431.44 658.44,431.79 657.26,432.13 656.07,432.48 654.87,432.82 653.68,433.16 652.48,433.50 651.28,433.83 650.08,434.16 648.87,434.49 647.66,434.82 646.45,435.14 645.23,435.46 644.02,435.78 642.80,436.10 641.57,436.41 640.35,436.72"/>
<polygon fill="url(#g_teal)" points="441.70,289.36 584.10,430.94 584.06,496.59 581.59,497.21 579.11,497.81 576.62,498.41 574.12,498.99 571.61,499.56 569.09,500.12 566.56,500.67 564.02,501.21 561.47,501.74 558.91,502.26 556.34,502.76 553.77,503.26 551.18,503.74 548.59,504.21 545.99,504.68 543.38,505.12 540.76,505.56 538.14,505.99 535.50,506.40 532.86,506.81 530.22,507.20 527.57,507.58 524.91,507.95 522.24,508.31 519.57,508.65 516.89,508.99 514.21,509.31 511.52,509.62 508.82,509.92 506.12,510.21 503.42,510.48 500.71,510.75 498.00,511.00 495.28,511.24 492.56,511.47 489.83,511.68 487.10,511.89 484.37,512.08 481.63,512.26 478.89,512.43 476.15,512.58 473.40,512.73 470.66,512.86 467.91,512.98 465.16,513.09 462.40,513.19 459.65,513.27 456.89,513.34 454.14,513.41 451.38,513.45 448.62,513.49 445.86,513.51 443.10,513.53 440.34,513.53 437.58,513.52 434.82,513.49 432.06,513.46 429.30,513.41 426.54,513.35 423.79,513.28 421.03,513.19 418.28,513.10 415.53,512.99 412.78,512.87 410.03,512.74 407.29,512.59 404.55,512.44 401.81,512.27 399.07,512.09 396.34,511.90 393.61,511.69 390.88,511.48 388.16,511.25 385.44,511.01 382.73,510.76 380.02,510.50 377.31,510.22 374.61,509.94 371.92,509.64 369.23,509.33 366.55,509.01 363.87,508.67 361.20,508.33 358.53,507.97 355.87,507.60 353.22,507.22 350.57,506.83 347.93,506.43 345.30,506.01 342.68,505.59 340.06,505.15 337.45,504.70 334.85,504.24 332.26,503.77 329.67,503.29 327.09,502.79 324.53,502.29 321.97,501.77 319.42,501.24 316.88,500.70 314.35,500.15 311.83,499.59 309.31,499.02 306.81,498.44 304.32,497.85 301.84,497.24 299.37,496.63 296.91,496.00 294.47,495.36 292.03,494.72 289.60,494.06 287.19,493.39 284.79,492.71 282.40,492.02 280.02,491.32 277.65,490.61 275.30,489.89 272.96,489.16 270.63,488.42 268.32,487.67 266.02,486.91 263.73,486.14 261.46,485.36 259.20,484.56 256.95,483.76 254.72,482.95 252.50,482.13 250.29,481.30 248.11,480.46 245.93,479.62 243.77,478.76 241.63,477.89 239.50,477.01 237.38,476.13 235.28,475.23 233.20,474.33 231.13,473.41 229.08,472.49 227.05,471.56 225.03,470.62 223.03,469.67 221.04,468.71 219.08,467.75 217.12,466.77 215.19,465.79 213.27,464.80 211.37,463.80 209.49,462.79 207.63,461.77 205.78,460.75 203.95,459.72 202.14,458.67 200.35,457.63 198.57,456.57 196.82,455.51 195.08,454.44 193.36,453.36 191.66,452.27 189.98,451.18 188.32,450.08 186.68,448.97 185.06,447.85 183.46,446.73 181.87,445.60 180.31,444.47 178.77,443.32 177.24,442.17 175.74,441.02 174.26,439.86 172.79,438.69 171.35,437.51 169.93,436.33 168.53,435.14 167.15,433.95 165.79,432.75 164.45,431.55 163.13,430.33 161.83,429.12 160.56,427.90 159.30,426.67 158.07,425.43 156.86,424.20 155.67,422.95 154.50,421.70 153.36,420.45 152.24,419.19 151.13,417.93 150.05,416.66 149.00,415.39 147.96,414.11 146.95,412.83 145.96,411.54 144.99,410.25 144.04,408.95 143.12,407.66 142.22,406.35 141.34,405.05 140.49,403.74 139.66,402.42 138.85,401.10 138.06,399.78 137.30,398.46 136.56,397.13 135.84,395.80 135.15,394.47 134.48,393.13 133.83,391.79 133.21,390.45 132.61,389.10 132.03,387.76 131.48,386.41 130.95,385.05 130.44,383.70 129.96,382.34 129.50,380.98 129.06,379.62 128.65,378.26 128.26,376.90 127.90,375.53 127.56,374.16 127.24,372.79 126.95,371.42 126.68,370.05 126.44,368.68 126.22,367.31 126.02,365.93 125.85,364.56 125.70,363.18 125.57,361.81 125.47,360.43 125.39,359.05 125.34,357.68 125.31,356.30 125.31,354.92 125.20,289.36 125.22,287.98 125.26,286.60 125.33,285.23 125.42,283.85 125.53,282.48 125.67,281.10 125.84,279.73 126.02,278.36 126.23,276.98 126.47,275.61 126.72,274.24 127.01,272.87 127.31,271.50 127.64,270.14 127.99,268.77 128.37,267.41 128.77,266.05 129.20,264.69 129.64,263.33 130.12,261.97 130.61,260.62 131.13,259.27 131.67,257.92 132.24,256.57 132.83,255.23 133.44,253.89 134.07,252.55 134.73,251.21 135.42,249.88 136.12,248.55 136.85,247.22 137.60,245.90 138.38,244.58 139.17,243.26 139.99,241.95 140.84,240.64 141.70,239.33 142.59,238.03 143.50,236.73 144.44,235.44 145.39,234.15 146.37,232.86 147.37,231.58 148.40,230.30 149.44,229.03 150.51,227.76 151.60,226.50 152.71,225.24 153.84,223.99 155.00,222.74 156.18,221.49 157.37,220.26 158.59,219.02 159.83,217.80 161.10,216.57 162.38,215.36 163.68,214.15 165.01,212.94 166.36,211.74 167.72,210.55 169.11,209.36 170.52,208.18 171.95,207.00 173.40,205.83 174.87,204.67 176.36,203.51 177.87,202.37 179.40,201.22 180.95,200.09 182.52,198.96 184.11,197.83 185.72,196.72 187.34,195.61 188.99,194.51 190.66,193.41 192.34,192.33 194.04,191.25 195.77,190.17 197.51,189.11 199.27,188.05 201.04,187.00 202.84,185.96 204.65,184.93 206.49,183.90 208.33,182.88 210.20,181.87 212.09,180.87 213.99,179.88 215.91,178.89 217.84,177.92 219.80,176.95 221.77,175.99 223.75,175.04 225.75,174.10 227.77,173.16 229.81,172.24 231.86,171.32 233.93,170.41 236.01,169.52 238.11,168.63 240.22,167.75 242.35,166.88 244.49,166.02 246.65,165.16 248.82,164.32 251.01,163.49 253.21,162.67 255.43,161.85 257.66,161.05"/>
<polygon fill="url(#g_teal)" stroke="url(#g_teal)" stroke-width="0.6" stroke-linejoin="round" points="584.10,430.94 582.86,431.25 581.62,431.56 580.38,431.86 579.14,432.16 577.89,432.46 576.64,432.76 575.39,433.05 574.14,433.34 572.88,433.63 571.62,433.92 570.36,434.20 569.10,434.48 567.83,434.75 566.56,435.03 565.29,435.30 564.02,435.57 562.74,435.83 561.46,436.10 560.18,436.36 558.90,436.61 557.61,436.87 556.33,437.12 555.04,437.37 553.74,437.62 552.45,437.86 551.16,438.10 549.86,438.34 548.56,438.57 547.25,438.80 545.95,439.03 544.64,439.26 543.34,439.48 542.03,439.70 540.71,439.92 539.40,440.14 538.09,440.35 536.77,440.56 535.45,440.76 534.13,440.97 532.80,441.17 531.48,441.36 530.15,441.56 528.83,441.75 527.50,441.94 526.16,442.13 524.83,442.31 523.50,442.49 522.16,442.67 520.82,442.84 519.48,443.01 518.14,443.18 516.80,443.35 515.46,443.51 514.11,443.67 512.77,443.82 511.42,443.98 510.07,444.13 508.72,444.28 507.37,444.42 506.01,444.56 504.66,444.70 503.30,444.84 501.95,444.97 500.59,445.10 499.23,445.23 497.87,445.35 496.51,445.47 495.15,445.59 493.79,445.71 492.42,445.82 491.06,445.93 489.69,446.04 488.32,446.14 486.96,446.24 485.59,446.34 484.22,446.43 482.85,446.52 481.48,446.61 480.11,446.70 478.73,446.78 477.36,446.86 475.99,446.94 474.61,447.01 473.24,447.08 471.86,447.15 470.48,447.21 469.11,447.27 467.73,447.33 466.35,447.39 464.97,447.44 463.59,447.49 462.21,447.54 460.84,447.58 459.46,447.62 458.07,447.66 456.69,447.69 455.31,447.72 453.93,447.75 452.55,447.78 451.17,447.80 449.79,447.82 448.40,447.83 447.02,447.85 445.64,447.86 444.26,447.87 442.88,447.87 441.49,447.87 440.11,447.87 438.73,447.86 437.35,447.86 435.96,447.85 434.58,447.83 433.20,447.81 431.82,447.79 430.44,447.77 429.05,447.75 427.67,447.72 426.29,447.68 424.91,447.65 423.53,447.61 422.15,447.57 420.77,447.53 419.39,447.48 418.01,447.43 416.64,447.38 415.26,447.32 413.88,447.26 412.50,447.20 411.13,447.13 409.75,447.07 408.38,447.00 407.00,446.92 405.63,446.84 404.26,446.76 402.88,446.68 401.51,446.60 400.14,446.51 398.77,446.41 397.40,446.32 396.03,446.22 394.67,446.12 393.30,446.02 391.93,445.91 390.57,445.80 389.21,445.69 387.84,445.57 386.48,445.45 385.12,445.33 383.76,445.20 382.40,445.08 381.05,444.95 379.69,444.81 378.33,444.68 376.98,444.54 375.63,444.39 374.28,444.25 372.93,444.10 371.58,443.95 370.23,443.79 368.88,443.64 367.54,443.48 366.20,443.31 364.86,443.15 363.52,442.98 362.18,442.81 360.84,442.63 359.50,442.45 358.17,442.27 356.84,442.09 355.51,441.90 354.18,441.71 352.85,441.52 351.52,441.33 350.20,441.13 348.88,440.93 347.56,440.72 346.24,440.52 344.92,440.31 343.61,440.09 342.29,439.88 340.98,439.66 339.67,439.44 338.36,439.21 337.06,438.99 335.76,438.76 334.45,438.53 333.15,438.29 331.86,438.05 330.56,437.81 329.27,437.57 327.98,437.32 326.69,437.07 325.40,436.82 324.12,436.56 322.84,436.31 321.56,436.05 320.28,435.78 319.00,435.52 317.73,435.25 316.46,434.97 315.19,434.70 313.93,434.42 312.66,434.14 311.40,433.86 310.14,433.57 308.89,433.29 307.63,433.00 306.38,432.70 305.14,432.40 303.89,432.11 302.65,431.80 301.41,431.50 300.17,431.19 298.93,430.88 297.70,430.57 296.47,430.25 295.25,429.94 294.02,429.61 292.80,429.29 291.58,428.96 290.37,428.64 289.16,428.30 287.95,427.97 286.74,427.63 285.54,427.29 284.34,426.95 283.14,426.61 281.94,426.26 280.75,425.91 279.56,425.56 278.38,425.20 277.20,424.85 276.02,424.49 274.84,424.12 273.67,423.76 272.50,423.39 271.33,423.02 270.17,422.65 269.01,422.27 267.85,421.89 266.70,421.51 265.55,421.13 264.40,420.74 263.26,420.36 262.12,419.97 260.99,419.57 259.85,419.18 258.72,418.78 257.60,418.38 256.47,417.98 255.36,417.57 254.24,417.16 253.13,416.75 252.02,416.34 250.92,415.93 249.82,415.51 248.72,415.09 247.63,414.67 246.54,414.24 245.45,413.82 244.37,413.39 243.29,412.96 242.22,412.52 241.14,412.09 240.08,411.65 239.01,411.21 237.95,410.76 236.90,410.32 235.85,409.87 234.80,409.42 233.76,408.97 232.72,408.51 231.68,408.05 230.65,407.60 229.62,407.13 228.60,406.67 227.58,406.20 226.56,405.74 225.55,405.27 224.55,404.79 223.54,404.32 222.54,403.84 221.55,403.36 220.56,402.88 219.57,402.40 218.59,401.91 217.61,401.43 216.64,400.94 215.67,400.44 214.70,399.95 213.74,399.45 212.79,398.96 211.84,398.46 210.89,397.95 209.95,397.45 209.01,396.94 208.07,396.43 207.14,395.92 206.22,395.41 205.30,394.90 204.38,394.38 203.47,393.86 202.56,393.34 201.66,392.82 200.76,392.29 199.87,391.77 198.98,391.24 198.10,390.71 197.22,390.18 196.34,389.64 195.47,389.11 194.61,388.57 193.74,388.03 192.89,387.49 192.04,386.94 191.19,386.40 190.35,385.85 189.51,385.30 188.68,384.75 187.85,384.20 187.03,383.64 186.21,383.09 185.40,382.53 184.59,381.97 183.79,381.41 182.99,380.85 182.20,380.28 181.41,379.71 180.63,379.15 179.85,378.58 179.07,378.00 178.31,377.43 177.54,376.86 176.78,376.28 176.03,375.70 175.28,375.12 174.54,374.54 173.80,373.96 173.07,373.37 172.34,372.78 171.62,372.20 170.90,371.61 170.19,371.02 169.48,370.42 168.78,369.83 168.08,369.23 167.39,368.64 166.71,368.04 166.03,367.44 165.35,366.83 164.68,366.23 164.01,365.63 163.35,365.02 162.70,364.41 162.05,363.80 161.41,363.19 160.77,362.58 160.13,361.97 159.51,361.35 158.88,360.74 158.27,360.12 157.65,359.50 157.05,358.88 156.45,358.26 155.85,357.64 155.26,357.02 154.68,356.39 154.10,355.76 153.52,355.14 152.96,354.51 152.39,353.88 151.84,353.25 151.29,352.61 150.74,351.98 150.20,351.35 149.66,350.71 149.13,350.07 148.61,349.43 148.09,348.80 147.58,348.15 147.07,347.51 146.57,346.87 146.07,346.23 145.58,345.58 145.10,344.94 144.62,344.29 144.15,343.64 143.68,342.99 143.22,342.34 142.76,341.69 142.31,341.04 141.87,340.39 141.43,339.73 140.99,339.08 140.57,338.42 140.14,337.76 139.73,337.11 139.32,336.45 138.91,335.79 138.51,335.13 138.12,334.47 137.73,333.81 137.35,333.14 136.98,332.48 136.61,331.81 136.24,331.15 135.88,330.48 135.53,329.82 135.18,329.15 134.84,328.48 134.51,327.81 134.18,327.14 133.85,326.47 133.54,325.80 133.23,325.13 132.92,324.46 132.62,323.78 132.33,323.11 132.04,322.43 131.75,321.76 131.48,321.08 131.21,320.41 130.94,319.73 130.68,319.05 130.43,318.38 130.18,317.70 129.94,317.02 129.71,316.34 129.48,315.66 129.26,314.98 129.04,314.30 128.83,313.62 128.62,312.93 128.42,312.25 128.23,311.57 128.04,310.89 127.86,310.20 127.69,309.52 127.52,308.83 127.35,308.15 127.19,307.46 127.04,306.78 126.90,306.09 126.76,305.41 126.62,304.72 126.50,304.04 126.37,303.35 126.26,302.66 126.15,301.97 126.05,301.29 125.95,300.60 125.86,299.91 125.77,299.22 125.69,298.53 125.62,297.85 125.55,297.16 125.49,296.47 125.43,295.78 125.38,295.09 125.34,294.40 125.30,293.71 125.27,293.02 125.24,292.33 125.22,291.65 125.21,290.96 125.20,290.27 125.31,355.83 125.32,356.52 125.33,357.21 125.35,357.90 125.37,358.59 125.41,359.28 125.44,359.97 125.49,360.66 125.54,361.35 125.59,362.04 125.65,362.72 125.72,363.41 125.80,364.10 125.87,364.79 125.96,365.48 126.05,366.17 126.15,366.86 126.25,367.54 126.36,368.23 126.48,368.92 126.60,369.61 126.73,370.29 126.86,370.98 127.00,371.67 127.15,372.35 127.30,373.04 127.46,373.72 127.62,374.41 127.79,375.09 127.96,375.78 128.15,376.46 128.33,377.15 128.53,377.83 128.73,378.51 128.93,379.19 129.14,379.88 129.36,380.56 129.58,381.24 129.81,381.92 130.05,382.60 130.29,383.28 130.53,383.96 130.79,384.63 131.05,385.31 131.31,385.99 131.58,386.67 131.86,387.34 132.14,388.02 132.43,388.69 132.72,389.37 133.02,390.04 133.33,390.71 133.64,391.39 133.96,392.06 134.28,392.73 134.61,393.40 134.94,394.07 135.29,394.74 135.63,395.40 135.98,396.07 136.34,396.74 136.71,397.40 137.08,398.07 137.45,398.73 137.83,399.40 138.22,400.06 138.61,400.72 139.01,401.38 139.42,402.04 139.83,402.70 140.24,403.36 140.67,404.01 141.09,404.67 141.53,405.33 141.97,405.98 142.41,406.63 142.86,407.29 143.32,407.94 143.78,408.59 144.25,409.24 144.72,409.88 145.20,410.53 145.68,411.18 146.17,411.82 146.67,412.47 147.17,413.11 147.68,413.75 148.19,414.39 148.71,415.03 149.23,415.67 149.76,416.31 150.30,416.95 150.84,417.58 151.38,418.22 151.93,418.85 152.49,419.48 153.05,420.11 153.62,420.74 154.19,421.37 154.77,421.99 155.36,422.62 155.95,423.24 156.54,423.87 157.14,424.49 157.75,425.11 158.36,425.73 158.98,426.34 159.60,426.96 160.23,427.58 160.86,428.19 161.50,428.80 162.14,429.41 162.79,430.02 163.45,430.63 164.11,431.24 164.77,431.84 165.44,432.44 166.12,433.05 166.80,433.65 167.48,434.25 168.18,434.84 168.87,435.44 169.57,436.03 170.28,436.63 170.99,437.22 171.71,437.81 172.43,438.40 173.16,438.98 173.89,439.57 174.63,440.15 175.37,440.73 176.12,441.31 176.87,441.89 177.63,442.47 178.39,443.05 179.16,443.62 179.94,444.19 180.71,444.76 181.50,445.33 182.28,445.90 183.08,446.46 183.88,447.03 184.68,447.59 185.49,448.15 186.30,448.71 187.12,449.26 187.94,449.82 188.77,450.37 189.60,450.92 190.43,451.47 191.28,452.02 192.12,452.57 192.97,453.11 193.83,453.65 194.69,454.19 195.55,454.73 196.42,455.27 197.30,455.80 198.18,456.33 199.06,456.86 199.95,457.39 200.84,457.92 201.74,458.44 202.64,458.97 203.55,459.49 204.46,460.01 205.38,460.52 206.30,461.04 207.22,461.55 208.15,462.06 209.09,462.57 210.03,463.08 210.97,463.58 211.92,464.08 212.87,464.58 213.82,465.08 214.78,465.58 215.75,466.07 216.72,466.57 217.69,467.06 218.67,467.54 219.65,468.03 220.63,468.51 221.63,468.99 222.62,469.47 223.62,469.95 224.62,470.43 225.63,470.90 226.64,471.37 227.65,471.84 228.67,472.30 229.70,472.77 230.72,473.23 231.75,473.69 232.79,474.15 233.83,474.60 234.87,475.05 235.92,475.50 236.97,475.95 238.03,476.40 239.09,476.84 240.15,477.28 241.21,477.72 242.29,478.16 243.36,478.59 244.44,479.02 245.52,479.45 246.61,479.88 247.69,480.31 248.79,480.73 249.88,481.15 250.98,481.57 252.09,481.98 253.20,482.39 254.31,482.80 255.42,483.21 256.54,483.62 257.66,484.02 258.79,484.42 259.92,484.82 261.05,485.21 262.19,485.61 263.32,486.00 264.47,486.39 265.61,486.77 266.76,487.16 267.92,487.54 269.07,487.91 270.23,488.29 271.39,488.66 272.56,489.03 273.73,489.40 274.90,489.77 276.08,490.13 277.26,490.49 278.44,490.85 279.62,491.20 280.81,491.56 282.00,491.91 283.20,492.25 284.39,492.60 285.59,492.94 286.80,493.28 288.00,493.62 289.21,493.95 290.42,494.28 291.64,494.61 292.86,494.94 294.08,495.26 295.30,495.58 296.53,495.90 297.76,496.22 298.99,496.53 300.22,496.84 301.46,497.15 302.70,497.45 303.94,497.75 305.19,498.05 306.43,498.35 307.68,498.64 308.94,498.94 310.19,499.22 311.45,499.51 312.71,499.79 313.97,500.07 315.24,500.35 316.51,500.62 317.78,500.90 319.05,501.17 320.32,501.43 321.60,501.70 322.88,501.96 324.16,502.21 325.45,502.47 326.73,502.72 328.02,502.97 329.31,503.22 330.61,503.46 331.90,503.70 333.20,503.94 334.50,504.18 335.80,504.41 337.10,504.64 338.41,504.87 339.71,505.09 341.02,505.31 342.33,505.53 343.65,505.75 344.96,505.96 346.28,506.17 347.59,506.38 348.92,506.58 350.24,506.78 351.56,506.98 352.89,507.17 354.21,507.37 355.54,507.56 356.87,507.74 358.20,507.93 359.54,508.11 360.87,508.29 362.21,508.46 363.55,508.63 364.89,508.80 366.23,508.97 367.57,509.13 368.92,509.29 370.26,509.45 371.61,509.60 372.96,509.75 374.31,509.90 375.66,510.05 377.01,510.19 378.36,510.33 379.72,510.47 381.07,510.60 382.43,510.73 383.79,510.86 385.15,510.99 386.51,511.11 387.87,511.23 389.23,511.34 390.59,511.46 391.96,511.57 393.32,511.67 394.69,511.78 396.06,511.88 397.43,511.98 398.79,512.07 400.16,512.16 401.53,512.25 402.91,512.34 404.28,512.42 405.65,512.50 407.02,512.58 408.40,512.65 409.77,512.72 411.15,512.79 412.52,512.86 413.90,512.92 415.28,512.98 416.65,513.03 418.03,513.09 419.41,513.14 420.79,513.18 422.17,513.23 423.55,513.27 424.93,513.31 426.31,513.34 427.69,513.37 429.07,513.40 430.45,513.43 431.83,513.45 433.21,513.47 434.59,513.49 435.98,513.50 437.36,513.51 438.74,513.52 440.12,513.53 441.50,513.53 442.89,513.53 444.27,513.52 445.65,513.52 447.03,513.51 448.41,513.49 449.79,513.48 451.18,513.46 452.56,513.43 453.94,513.41 455.32,513.38 456.70,513.35 458.08,513.31 459.46,513.28 460.84,513.24 462.22,513.19 463.60,513.15 464.98,513.10 466.35,513.04 467.73,512.99 469.11,512.93 470.49,512.87 471.86,512.80 473.24,512.74 474.61,512.67 475.99,512.59 477.36,512.52 478.73,512.44 480.10,512.35 481.48,512.27 482.85,512.18 484.22,512.09 485.58,511.99 486.95,511.90 488.32,511.80 489.69,511.69 491.05,511.59 492.42,511.48 493.78,511.36 495.14,511.25 496.50,511.13 497.87,511.01 499.22,510.89 500.58,510.76 501.94,510.63 503.30,510.49 504.65,510.36 506.01,510.22 507.36,510.08 508.71,509.93 510.06,509.78 511.41,509.63 512.75,509.48 514.10,509.32 515.45,509.16 516.79,509.00 518.13,508.83 519.47,508.67 520.81,508.49 522.15,508.32 523.48,508.14 524.82,507.96 526.15,507.78 527.48,507.59 528.81,507.40 530.14,507.21 531.46,507.02 532.79,506.82 534.11,506.62 535.43,506.42 536.75,506.21 538.07,506.00 539.38,505.79 540.70,505.57 542.01,505.36 543.32,505.14 544.62,504.91 545.93,504.69 547.23,504.46 548.54,504.22 549.83,503.99 551.13,503.75 552.43,503.51 553.72,503.27 555.01,503.02 556.30,502.77 557.59,502.52 558.87,502.27 560.16,502.01 561.44,501.75 562.71,501.48 563.99,501.22 565.26,500.95 566.53,500.68 567.80,500.40 569.07,500.13 570.33,499.85 571.59,499.57 572.85,499.28 574.11,498.99 575.36,498.70 576.61,498.41 577.86,498.11 579.11,497.81 580.35,497.51 581.59,497.21 582.83,496.90 584.06,496.59"/>
<polyline fill="none" stroke="#000" stroke-opacity="0.3" stroke-width="0.8" points="125.31,355.83 125.32,356.52 125.33,357.21 125.35,357.90 125.37,358.59 125.41,359.28 125.44,359.97 125.49,360.66 125.54,361.35 125.59,362.04 125.65,362.72 125.72,363.41 125.80,364.10 125.87,364.79 125.96,365.48 126.05,366.17 126.15,366.86 126.25,367.54 126.36,368.23 126.48,368.92 126.60,369.61 126.73,370.29 126.86,370.98 127.00,371.67 127.15,372.35 127.30,373.04 127.46,373.72 127.62,374.41 127.79,375.09 127.96,375.78 128.15,376.46 128.33,377.15 128.53,377.83 128.73,378.51 128.93,379.19 129.14,379.88 129.36,380.56 129.58,381.24 129.81,381.92 130.05,382.60 130.29,383.28 130.53,383.96 130.79,384.63 131.05,385.31 131.31,385.99 131.58,386.67 131.86,387.34 132.14,388.02 132.43,388.69 132.72,389.37 133.02,390.04 133.33,390.71 133.64,391.39 133.96,392.06 134.28,392.73 134.61,393.40 134.94,394.07 135.29,394.74 135.63,395.40 135.98,396.07 136.34,396.74 136.71,397.40 137.08,398.07 137.45,398.73 137.83,399.40 138.22,400.06 138.61,400.72 139.01,401.38 139.42,402.04 139.83,402.70 140.24,403.36 140.67,404.01 141.09,404.67 141.53,405.33 141.97,405.98 142.41,406.63 142.86,407.29 143.32,407.94 143.78,408.59 144.25,409.24 144.72,409.88 145.20,410.53 145.68,411.18 146.17,411.82 146.67,412.47 147.17,413.11 147.68,413.75 148.19,414.39 148.71,415.03 149.23,415.67 149.76,416.31 150.30,416.95 150.84,417.58 151.38,418.22 151.93,418.85 152.49,419.48 153.05,420.11 153.62,420.74 154.19,421.37 154.77,421.99 155.36,422.62 155.95,423.24 156.54,423.87 157.14,424.49 157.75,425.11 158.36,425.73 158.98,426.34 159.60,426.96 160.23,427.58 160.86,428.19 161.50,428.80 162.14,429.41 162.79,430.02 163.45,430.63 164.11,431.24 164.77,431.84 165.44,432.44 166.12,433.05 166.80,433.65 167.48,434.25 168.18,434.84 168.87,435.44 169.57,436.03 170.28,436.63 170.99,437.22 171.71,437.81 172.43,438.40 173.16,438.98 173.89,439.57 174.63,440.15 175.37,440.73 176.12,441.31 176.87,441.89 177.63,442.47 178.39,443.05 179.16,443.62 179.94,444.19 180.71,444.76 181.50,445.33 182.28,445.90 183.08,446.46 183.88,447.03 184.68,447.59 185.49,448.15 186.30,448.71 187.12,449.26 187.94,449.82 188.77,450.37 189.60,450.92 190.43,451.47 191.28,452.02 192.12,452.57 192.97,453.11 193.83,453.65 194.69,454.19 195.55,454.73 196.42,455.27 197.30,455.80 198.18,456.33 199.06,456.86 199.95,457.39 200.84,457.92 201.74,458.44 202.64,458.97 203.55,459.49 204.46,460.01 205.38,460.52 206.30,461.04 207.22,461.55 208.15,462.06 209.09,462.57 210.03,463.08 210.97,463.58 211.92,464.08 212.87,464.58 213.82,465.08 214.78,465.58 215.75,466.07 216.72,466.57 217.69,467.06 218.67,467.54 219.65,468.03 220.63,468.51 221.63,468.99 222.62,469.47 223.62,469.95 224.62,470.43 225.63,470.90 226.64,471.37 227.65,471.84 228.67,472.30 229.70,472.77 230.72,473.23 231.75,473.69 232.79,474.15 233.83,474.60 234.87,475.05 235.92,475.50 236.97,475.95 238.03,476.40 239.09,476.84 240.15,477.28 241.21,477.72 242.29,478.16 243.36,478.59 244.44,479.02 245.52,479.45 246.61,479.88 247.69,480.31 248.79,480.73 249.88,481.15 250.98,481.57 252.09,481.98 253.20,482.39 254.31,482.80 255.42,483.21 256.54,483.62 257.66,484.02 258.79,484.42 259.92,484.82 261.05,485.21 262.19,485.61 263.32,486.00 264.47,486.39 265.61,486.77 266.76,487.16 267.92,487.54 269.07,487.91 270.23,488.29 271.39,488.66 272.56,489.03 273.73,489.40 274.90,489.77 276.08,490.13 277.26,490.49 278.44,490.85 279.62,491.20 280.81,491.56 282.00,491.91 283.20,492.25 284.39,492.60 285.59,492.94 286.80,493.28 288.00,493.62 289.21,493.95 290.42,494.28 291.64,494.61 292.86,494.94 294.08,495.26 295.30,495.58 296.53,495.90 297.76,496.22 298.99,496.53 300.22,496.84 301.46,497.15 302.70,497.45 303.94,497.75 305.19,498.05 306.43,498.35 307.68,498.64 308.94,498.94 310.19,499.22 311.45,499.51 312.71,499.79 313.97,500.07 315.24,500.35 316.51,500.62 317.78,500.90 319.05,501.17 320.32,501.43 321.60,501.70 322.88,501.96 324.16,502.21 325.45,502.47 326.73,502.72 328.02,502.97 329.31,503.22 330.61,503.46 331.90,503.70 333.20,503.94 334.50,504.18 335.80,504.41 337.10,504.64 338.41,504.87 339.71,505.09 341.02,505.31 342.33,505.53 343.65,505.75 344.96,505.96 346.28,506.17 347.59,506.38 348.92,506.58 350.24,506.78 351.56,506.98 352.89,507.17 354.21,507.37 355.54,507.56 356.87,507.74 358.20,507.93 359.54,508.11 360.87,508.29 362.21,508.46 363.55,508.63 364.89,508.80 366.23,508.97 367.57,509.13 368.92,509.29 370.26,509.45 371.61,509.60 372.96,509.75 374.31,509.90 375.66,510.05 377.01,510.19 378.36,510.33 379.72,510.47 381.07,510.60 382.43,510.73 383.79,510.86 385.15,510.99 386.51,511.11 387.87,511.23 389.23,511.34 390.59,511.46 391.96,511.57 393.32,511.67 394.69,511.78 396.06,511.88 397.43,511.98 398.79,512.07 400.16,512.16 401.53,512.25 402.91,512.34 404.28,512.42 405.65,512.50 407.02,512.58 408.40,512.65 409.77,512.72 411.15,512.79 412.52,512.86 413.90,512.92 415.28,512.98 416.65,513.03 418.03,513.09 419.41,513.14 420.79,513.18 422.17,513.23 423.55,513.27 424.93,513.31 426.31,513.34 427.69,513.37 429.07,513.40 430.45,513.43 431.83,513.45 433.21,513.47 434.59,513.49 435.98,513.50 437.36,513.51 438.74,513.52 440.12,513.53 441.50,513.53 442.89,513.53 444.27,513.52 445.65,513.52 447.03,513.51 448.41,513.49 449.79,513.48 451.18,513.46 452.56,513.43 453.94,513.41 455.32,513.38 456.70,513.35 458.08,513.31 459.46,513.28 460.84,513.24 462.22,513.19 463.60,513.15 464.98,513.10 466.35,513.04 467.73,512.99 469.11,512.93 470.49,512.87 471.86,512.80 473.24,512.74 474.61,512.67 475.99,512.59 477.36,512.52 478.73,512.44 480.10,512.35 481.48,512.27 482.85,512.18 484.22,512.09 485.58,511.99 486.95,511.90 488.32,511.80 489.69,511.69 491.05,511.59 492.42,511.48 493.78,511.36 495.14,511.25 496.50,511.13 497.87,511.01 499.22,510.89 500.58,510.76 501.94,510.63 503.30,510.49 504.65,510.36 506.01,510.22 507.36,510.08 508.71,509.93 510.06,509.78 511.41,509.63 512.75,509.48 514.10,509.32 515.45,509.16 516.79,509.00 518.13,508.83 519.47,508.67 520.81,508.49 522.15,508.32 523.48,508.14 524.82,507.96 526.15,507.78 527.48,507.59 528.81,507.40 530.14,507.21 531.46,507.02 532.79,506.82 534.11,506.62 535.43,506.42 536.75,506.21 538.07,506.00 539.38,505.79 540.70,505.57 542.01,505.36 543.32,505.14 544.62,504.91 545.93,504.69 547.23,504.46 548.54,504.22 549.83,503.99 551.13,503.75 552.43,503.51 553.72,503.27 555.01,503.02 556.30,502.77 557.59,502.52 558.87,502.27 560.16,502.01 561.44,501.75 562.71,501.48 563.99,501.22 565.26,500.95 566.53,500.68 567.80,500.40 569.07,500.13 570.33,499.85 571.59,499.57 572.85,499.28 574.11,498.99 575.36,498.70 576.61,498.41 577.86,498.11 579.11,497.81 580.35,497.51 581.59,497.21 582.83,496.90 584.06,496.59"/>
<polygon fill="#3F93AD" stroke="#3F93AD" stroke-width="0.5" stroke-linejoin="round" points="441.70,289.36 584.10,430.94 582.86,431.25 581.62,431.56 580.38,431.86 579.14,432.16 577.89,432.46 576.64,432.76 575.39,433.05 574.14,433.34 572.88,433.63 571.62,433.92 570.36,434.20 569.10,434.48 567.83,434.75 566.56,435.03 565.29,435.30 564.02,435.57 562.74,435.83 561.46,436.10 560.18,436.36 558.90,436.61 557.61,436.87 556.33,437.12 555.04,437.37 553.74,437.62 552.45,437.86 551.16,438.10 549.86,438.34 548.56,438.57 547.25,438.80 545.95,439.03 544.64,439.26 543.34,439.48 542.03,439.70 540.71,439.92 539.40,440.14 538.09,440.35 536.77,440.56 535.45,440.76 534.13,440.97 532.80,441.17 531.48,441.36 530.15,441.56 528.83,441.75 527.50,441.94 526.16,442.13 524.83,442.31 523.50,442.49 522.16,442.67 520.82,442.84 519.48,443.01 518.14,443.18 516.80,443.35 515.46,443.51 514.11,443.67 512.77,443.82 511.42,443.98 510.07,444.13 508.72,444.28 507.37,444.42 506.01,444.56 504.66,444.70 503.30,444.84 501.95,444.97 500.59,445.10 499.23,445.23 497.87,445.35 496.51,445.47 495.15,445.59 493.79,445.71 492.42,445.82 491.06,445.93 489.69,446.04 488.32,446.14 486.96,446.24 485.59,446.34 484.22,446.43 482.85,446.52 481.48,446.61 480.11,446.70 478.73,446.78 477.36,446.86 475.99,446.94 474.61,447.01 473.24,447.08 471.86,447.15 470.48,447.21 469.11,447.27 467.73,447.33 466.35,447.39 464.97,447.44 463.59,447.49 462.21,447.54 460.84,447.58 459.46,447.62 458.07,447.66 456.69,447.69 455.31,447.72 453.93,447.75 452.55,447.78 451.17,447.80 449.79,447.82 448.40,447.83 447.02,447.85 445.64,447.86 444.26,447.87 442.88,447.87 441.49,447.87 440.11,447.87 438.73,447.86 437.35,447.86 435.96,447.85 434.58,447.83 433.20,447.81 431.82,447.79 430.44,447.77 429.05,447.75 427.67,447.72 426.29,447.68 424.91,447.65 423.53,447.61 422.15,447.57 420.77,447.53 419.39,447.48 418.01,447.43 416.64,447.38 415.26,447.32 413.88,447.26 412.50,447.20 411.13,447.13 409.75,447.07 408.38,447.00 407.00,446.92 405.63,446.84 404.26,446.76 402.88,446.68 401.51,446.60 400.14,446.51 398.77,446.41 397.40,446.32 396.03,446.22 394.67,446.12 393.30,446.02 391.93,445.91 390.57,445.80 389.21,445.69 387.84,445.57 386.48,445.45 385.12,445.33 383.76,445.20 382.40,445.08 381.05,444.95 379.69,444.81 378.33,444.68 376.98,444.54 375.63,444.39 374.28,444.25 372.93,444.10 371.58,443.95 370.23,443.79 368.88,443.64 367.54,443.48 366.20,443.31 364.86,443.15 363.52,442.98 362.18,442.81 360.84,442.63 359.50,442.45 358.17,442.27 356.84,442.09 355.51,441.90 354.18,441.71 352.85,441.52 351.52,441.33 350.20,441.13 348.88,440.93 347.56,440.72 346.24,440.52 344.92,440.31 343.61,440.09 342.29,439.88 340.98,439.66 339.67,439.44 338.36,439.21 337.06,438.99 335.76,438.76 334.45,438.53 333.15,438.29 331.86,438.05 330.56,437.81 329.27,437.57 327.98,437.32 326.69,437.07 325.40,436.82 324.12,436.56 322.84,436.31 321.56,436.05 320.28,435.78 319.00,435.52 317.73,435.25 316.46,434.97 315.19,434.70 313.93,434.42 312.66,434.14 311.40,433.86 310.14,433.57 308.89,433.29 307.63,433.00 306.38,432.70 305.14,432.40 303.89,432.11 302.65,431.80 301.41,431.50 300.17,431.19 298.93,430.88 297.70,430.57 296.47,430.25 295.25,429.94 294.02,429.61 292.80,429.29 291.58,428.96 290.37,428.64 289.16,428.30 287.95,427.97 286.74,427.63 285.54,427.29 284.34,426.95 283.14,426.61 281.94,426.26 280.75,425.91 279.56,425.56 278.38,425.20 277.20,424.85 276.02,424.49 274.84,424.12 273.67,423.76 272.50,423.39 271.33,423.02 270.17,422.65 269.01,422.27 267.85,421.89 266.70,421.51 265.55,421.13 264.40,420.74 263.26,420.36 262.12,419.97 260.99,419.57 259.85,419.18 258.72,418.78 257.60,418.38 256.47,417.98 255.36,417.57 254.24,417.16 253.13,416.75 252.02,416.34 250.92,415.93 249.82,415.51 248.72,415.09 247.63,414.67 246.54,414.24 245.45,413.82 244.37,413.39 243.29,412.96 242.22,412.52 241.14,412.09 240.08,411.65 239.01,411.21 237.95,410.76 236.90,410.32 235.85,409.87 234.80,409.42 233.76,408.97 232.72,408.51 231.68,408.05 230.65,407.60 229.62,407.13 228.60,406.67 227.58,406.20 226.56,405.74 225.55,405.27 224.55,404.79 223.54,404.32 222.54,403.84 221.55,403.36 220.56,402.88 219.57,402.40 218.59,401.91 217.61,401.43 216.64,400.94 215.67,400.44 214.70,399.95 213.74,399.45 212.79,398.96 211.84,398.46 210.89,397.95 209.95,397.45 209.01,396.94 208.07,396.43 207.14,395.92 206.22,395.41 205.30,394.90 204.38,394.38 203.47,393.86 202.56,393.34 201.66,392.82 200.76,392.29 199.87,391.77 198.98,391.24 198.10,390.71 197.22,390.18 196.34,389.64 195.47,389.11 194.61,388.57 193.74,388.03 192.89,387.49 192.04,386.94 191.19,386.40 190.35,385.85 189.51,385.30 188.68,384.75 187.85,384.20 187.03,383.64 186.21,383.09 185.40,382.53 184.59,381.97 183.79,381.41 182.99,380.85 182.20,380.28 181.41,379.71 180.63,379.15 179.85,378.58 179.07,378.00 178.31,377.43 177.54,376.86 176.78,376.28 176.03,375.70 175.28,375.12 174.54,374.54 173.80,373.96 173.07,373.37 172.34,372.78 171.62,372.20 170.90,371.61 170.19,371.02 169.48,370.42 168.78,369.83 168.08,369.23 167.39,368.64 166.71,368.04 166.03,367.44 165.35,366.83 164.68,366.23 164.01,365.63 163.35,365.02 162.70,364.41 162.05,363.80 161.41,363.19 160.77,362.58 160.13,361.97 159.51,361.35 158.88,360.74 158.27,360.12 157.65,359.50 157.05,358.88 156.45,358.26 155.85,357.64 155.26,357.02 154.68,356.39 154.10,355.76 153.52,355.14 152.96,354.51 152.39,353.88 151.84,353.25 151.29,352.61 150.74,351.98 150.20,351.35 149.66,350.71 149.13,350.07 148.61,349.43 148.09,348.80 147.58,348.15 147.07,347.51 146.57,346.87 146.07,346.23 145.58,345.58 145.10,344.94 144.62,344.29 144.15,343.64 143.68,342.99 143.22,342.34 142.76,341.69 142.31,341.04 141.87,340.39 141.43,339.73 140.99,339.08 140.57,338.42 140.14,337.76 139.73,337.11 139.32,336.45 138.91,335.79 138.51,335.13 138.12,334.47 137.73,333.81 137.35,333.14 136.98,332.48 136.61,331.81 136.24,331.15 135.88,330.48 135.53,329.82 135.18,329.15 134.84,328.48 134.51,327.81 134.18,327.14 133.85,326.47 133.54,325.80 133.23,325.13 132.92,324.46 132.62,323.78 132.33,323.11 132.04,322.43 131.75,321.76 131.48,321.08 131.21,320.41 130.94,319.73 130.68,319.05 130.43,318.38 130.18,317.70 129.94,317.02 129.71,316.34 129.48,315.66 129.26,314.98 129.04,314.30 128.83,313.62 128.62,312.93 128.42,312.25 128.23,311.57 128.04,310.89 127.86,310.20 127.69,309.52 127.52,308.83 127.35,308.15 127.19,307.46 127.04,306.78 126.90,306.09 126.76,305.41 126.62,304.72 126.50,304.04 126.37,303.35 126.26,302.66 126.15,301.97 126.05,301.29 125.95,300.60 125.86,299.91 125.77,299.22 125.69,298.53 125.62,297.85 125.55,297.16 125.49,296.47 125.43,295.78 125.38,295.09 125.34,294.40 125.30,293.71 125.27,293.02 125.24,292.33 125.22,291.65 125.21,290.96 125.20,290.27 125.20,289.58 125.21,288.89 125.22,288.20 125.23,287.51 125.25,286.82 125.28,286.13 125.32,285.44 125.36,284.75 125.40,284.06 125.46,283.37 125.52,282.69 125.58,282.00 125.65,281.31 125.73,280.62 125.81,279.93 125.90,279.25 125.99,278.56 126.09,277.87 126.20,277.18 126.31,276.50 126.43,275.81 126.56,275.12 126.69,274.44 126.82,273.75 126.96,273.07 127.11,272.38 127.27,271.70 127.43,271.01 127.59,270.33 127.77,269.64 127.94,268.96 128.13,268.28 128.32,267.59 128.51,266.91 128.72,266.23 128.92,265.55 129.14,264.87 129.36,264.19 129.58,263.51 129.82,262.83 130.05,262.15 130.30,261.47 130.55,260.79 130.80,260.12 131.06,259.44 131.33,258.76 131.60,258.09 131.88,257.41 132.17,256.74 132.46,256.07 132.75,255.39 133.06,254.72 133.36,254.05 133.68,253.38 134.00,252.71 134.32,252.04 134.65,251.37 134.99,250.70 135.34,250.03 135.68,249.37 136.04,248.70 136.40,248.04 136.77,247.37 137.14,246.71 137.52,246.05 137.90,245.38 138.29,244.72 138.68,244.06 139.09,243.40 139.49,242.75 139.90,242.09 140.32,241.43 140.75,240.78 141.18,240.12 141.61,239.47 142.05,238.82 142.50,238.16 142.95,237.51 143.41,236.86 143.87,236.21 144.34,235.57 144.82,234.92 145.30,234.27 145.78,233.63 146.28,232.99 146.77,232.34 147.28,231.70 147.78,231.06 148.30,230.42 148.82,229.79 149.34,229.15 149.87,228.51 150.41,227.88 150.95,227.24 151.50,226.61 152.05,225.98 152.61,225.35 153.17,224.72 153.74,224.10 154.32,223.47 154.90,222.85 155.48,222.22 156.07,221.60 156.67,220.98 157.27,220.36 157.88,219.74 158.49,219.12 159.11,218.51 159.73,217.89 160.36,217.28 161.00,216.67 161.64,216.06 162.28,215.45 162.93,214.84 163.59,214.24 164.25,213.63 164.91,213.03 165.58,212.43 166.26,211.83 166.94,211.23 167.63,210.63 168.32,210.04 169.01,209.44 169.72,208.85 170.42,208.26 171.14,207.67 171.85,207.08 172.58,206.50 173.30,205.91 174.04,205.33 174.77,204.75 175.52,204.17 176.27,203.59 177.02,203.01 177.78,202.44 178.54,201.86 179.31,201.29 180.08,200.72 180.86,200.15 181.64,199.59 182.43,199.02 183.22,198.46 184.02,197.90 184.82,197.34 185.63,196.78 186.44,196.22 187.26,195.67 188.08,195.11 188.91,194.56 189.74,194.01 190.57,193.47 191.41,192.92 192.26,192.38 193.11,191.84 193.96,191.30 194.82,190.76 195.69,190.22 196.56,189.69 197.43,189.16 198.31,188.63 199.19,188.10 200.08,187.57 200.97,187.05 201.87,186.52 202.77,186.00 203.67,185.48 204.58,184.97 205.50,184.45 206.42,183.94 207.34,183.43 208.27,182.92 209.20,182.41 210.14,181.91 211.08,181.41 212.03,180.90 212.98,180.41 213.93,179.91 214.89,179.42 215.85,178.92 216.82,178.43 217.79,177.94 218.76,177.46 219.74,176.97 220.73,176.49 221.72,176.01 222.71,175.54 223.71,175.06 224.71,174.59 225.71,174.12 226.72,173.65 227.73,173.18 228.75,172.72 229.77,172.26 230.79,171.80 231.82,171.34 232.86,170.88 233.89,170.43 234.93,169.98 235.98,169.53 237.03,169.08 238.08,168.64 239.13,168.20 240.20,167.76 241.26,167.32 242.33,166.89 243.40,166.45 244.47,166.02 245.55,165.60 246.63,165.17 247.72,164.75 248.81,164.33 249.90,163.91 251.00,163.49 252.10,163.08 253.21,162.67 254.31,162.26 255.43,161.85 256.54,161.45 257.66,161.05"/>
<polyline fill="none" stroke="#1F7A96" stroke-opacity="0.55" stroke-width="0.9" points="584.10,430.94 582.86,431.25 581.62,431.56 580.38,431.86 579.14,432.16 577.89,432.46 576.64,432.76 575.39,433.05 574.14,433.34 572.88,433.63 571.62,433.92 570.36,434.20 569.10,434.48 567.83,434.75 566.56,435.03 565.29,435.30 564.02,435.57 562.74,435.83 561.46,436.10 560.18,436.36 558.90,436.61 557.61,436.87 556.33,437.12 555.04,437.37 553.74,437.62 552.45,437.86 551.16,438.10 549.86,438.34 548.56,438.57 547.25,438.80 545.95,439.03 544.64,439.26 543.34,439.48 542.03,439.70 540.71,439.92 539.40,440.14 538.09,440.35 536.77,440.56 535.45,440.76 534.13,440.97 532.80,441.17 531.48,441.36 530.15,441.56 528.83,441.75 527.50,441.94 526.16,442.13 524.83,442.31 523.50,442.49 522.16,442.67 520.82,442.84 519.48,443.01 518.14,443.18 516.80,443.35 515.46,443.51 514.11,443.67 512.77,443.82 511.42,443.98 510.07,444.13 508.72,444.28 507.37,444.42 506.01,444.56 504.66,444.70 503.30,444.84 501.95,444.97 500.59,445.10 499.23,445.23 497.87,445.35 496.51,445.47 495.15,445.59 493.79,445.71 492.42,445.82 491.06,445.93 489.69,446.04 488.32,446.14 486.96,446.24 485.59,446.34 484.22,446.43 482.85,446.52 481.48,446.61 480.11,446.70 478.73,446.78 477.36,446.86 475.99,446.94 474.61,447.01 473.24,447.08 471.86,447.15 470.48,447.21 469.11,447.27 467.73,447.33 466.35,447.39 464.97,447.44 463.59,447.49 462.21,447.54 460.84,447.58 459.46,447.62 458.07,447.66 456.69,447.69 455.31,447.72 453.93,447.75 452.55,447.78 451.17,447.80 449.79,447.82 448.40,447.83 447.02,447.85 445.64,447.86 444.26,447.87 442.88,447.87 441.49,447.87 440.11,447.87 438.73,447.86 437.35,447.86 435.96,447.85 434.58,447.83 433.20,447.81 431.82,447.79 430.44,447.77 429.05,447.75 427.67,447.72 426.29,447.68 424.91,447.65 423.53,447.61 422.15,447.57 420.77,447.53 419.39,447.48 418.01,447.43 416.64,447.38 415.26,447.32 413.88,447.26 412.50,447.20 411.13,447.13 409.75,447.07 408.38,447.00 407.00,446.92 405.63,446.84 404.26,446.76 402.88,446.68 401.51,446.60 400.14,446.51 398.77,446.41 397.40,446.32 396.03,446.22 394.67,446.12 393.30,446.02 391.93,445.91 390.57,445.80 389.21,445.69 387.84,445.57 386.48,445.45 385.12,445.33 383.76,445.20 382.40,445.08 381.05,444.95 379.69,444.81 378.33,444.68 376.98,444.54 375.63,444.39 374.28,444.25 372.93,444.10 371.58,443.95 370.23,443.79 368.88,443.64 367.54,443.48 366.20,443.31 364.86,443.15 363.52,442.98 362.18,442.81 360.84,442.63 359.50,442.45 358.17,442.27 356.84,442.09 355.51,441.90 354.18,441.71 352.85,441.52 351.52,441.33 350.20,441.13 348.88,440.93 347.56,440.72 346.24,440.52 344.92,440.31 343.61,440.09 342.29,439.88 340.98,439.66 339.67,439.44 338.36,439.21 337.06,438.99 335.76,438.76 334.45,438.53 333.15,438.29 331.86,438.05 330.56,437.81 329.27,437.57 327.98,437.32 326.69,437.07 325.40,436.82 324.12,436.56 322.84,436.31 321.56,436.05 320.28,435.78 319.00,435.52 317.73,435.25 316.46,434.97 315.19,434.70 313.93,434.42 312.66,434.14 311.40,433.86 310.14,433.57 308.89,433.29 307.63,433.00 306.38,432.70 305.14,432.40 303.89,432.11 302.65,431.80 301.41,431.50 300.17,431.19 298.93,430.88 297.70,430.57 296.47,430.25 295.25,429.94 294.02,429.61 292.80,429.29 291.58,428.96 290.37,428.64 289.16,428.30 287.95,427.97 286.74,427.63 285.54,427.29 284.34,426.95 283.14,426.61 281.94,426.26 280.75,425.91 279.56,425.56 278.38,425.20 277.20,424.85 276.02,424.49 274.84,424.12 273.67,423.76 272.50,423.39 271.33,423.02 270.17,422.65 269.01,422.27 267.85,421.89 266.70,421.51 265.55,421.13 264.40,420.74 263.26,420.36 262.12,419.97 260.99,419.57 259.85,419.18 258.72,418.78 257.60,418.38 256.47,417.98 255.36,417.57 254.24,417.16 253.13,416.75 252.02,416.34 250.92,415.93 249.82,415.51 248.72,415.09 247.63,414.67 246.54,414.24 245.45,413.82 244.37,413.39 243.29,412.96 242.22,412.52 241.14,412.09 240.08,411.65 239.01,411.21 237.95,410.76 236.90,410.32 235.85,409.87 234.80,409.42 233.76,408.97 232.72,408.51 231.68,408.05 230.65,407.60 229.62,407.13 228.60,406.67 227.58,406.20 226.56,405.74 225.55,405.27 224.55,404.79 223.54,404.32 222.54,403.84 221.55,403.36 220.56,402.88 219.57,402.40 218.59,401.91 217.61,401.43 216.64,400.94 215.67,400.44 214.70,399.95 213.74,399.45 212.79,398.96 211.84,398.46 210.89,397.95 209.95,397.45 209.01,396.94 208.07,396.43 207.14,395.92 206.22,395.41 205.30,394.90 204.38,394.38 203.47,393.86 202.56,393.34 201.66,392.82 200.76,392.29 199.87,391.77 198.98,391.24 198.10,390.71 197.22,390.18 196.34,389.64 195.47,389.11 194.61,388.57 193.74,388.03 192.89,387.49 192.04,386.94 191.19,386.40 190.35,385.85 189.51,385.30 188.68,384.75 187.85,384.20 187.03,383.64 186.21,383.09 185.40,382.53 184.59,381.97 183.79,381.41 182.99,380.85 182.20,380.28 181.41,379.71 180.63,379.15 179.85,378.58 179.07,378.00 178.31,377.43 177.54,376.86 176.78,376.28 176.03,375.70 175.28,375.12 174.54,374.54 173.80,373.96 173.07,373.37 172.34,372.78 171.62,372.20 170.90,371.61 170.19,371.02 169.48,370.42 168.78,369.83 168.08,369.23 167.39,368.64 166.71,368.04 166.03,367.44 165.35,366.83 164.68,366.23 164.01,365.63 163.35,365.02 162.70,364.41 162.05,363.80 161.41,363.19 160.77,362.58 160.13,361.97 159.51,361.35 158.88,360.74 158.27,360.12 157.65,359.50 157.05,358.88 156.45,358.26 155.85,357.64 155.26,357.02 154.68,356.39 154.10,355.76 153.52,355.14 152.96,354.51 152.39,353.88 151.84,353.25 151.29,352.61 150.74,351.98 150.20,351.35 149.66,350.71 149.13,350.07 148.61,349.43 148.09,348.80 147.58,348.15 147.07,347.51 146.57,346.87 146.07,346.23 145.58,345.58 145.10,344.94 144.62,344.29 144.15,343.64 143.68,342.99 143.22,342.34 142.76,341.69 142.31,341.04 141.87,340.39 141.43,339.73 140.99,339.08 140.57,338.42 140.14,337.76 139.73,337.11 139.32,336.45 138.91,335.79 138.51,335.13 138.12,334.47 137.73,333.81 137.35,333.14 136.98,332.48 136.61,331.81 136.24,331.15 135.88,330.48 135.53,329.82 135.18,329.15 134.84,328.48 134.51,327.81 134.18,327.14 133.85,326.47 133.54,325.80 133.23,325.13 132.92,324.46 132.62,323.78 132.33,323.11 132.04,322.43 131.75,321.76 131.48,321.08 131.21,320.41 130.94,319.73 130.68,319.05 130.43,318.38 130.18,317.70 129.94,317.02 129.71,316.34 129.48,315.66 129.26,314.98 129.04,314.30 128.83,313.62 128.62,312.93 128.42,312.25 128.23,311.57 128.04,310.89 127.86,310.20 127.69,309.52 127.52,308.83 127.35,308.15 127.19,307.46 127.04,306.78 126.90,306.09 126.76,305.41 126.62,304.72 126.50,304.04 126.37,303.35 126.26,302.66 126.15,301.97 126.05,301.29 125.95,300.60 125.86,299.91 125.77,299.22 125.69,298.53 125.62,297.85 125.55,297.16 125.49,296.47 125.43,295.78 125.38,295.09 125.34,294.40 125.30,293.71 125.27,293.02 125.24,292.33 125.22,291.65 125.21,290.96 125.20,290.27 125.20,289.58 125.21,288.89 125.22,288.20 125.23,287.51 125.25,286.82 125.28,286.13 125.32,285.44 125.36,284.75 125.40,284.06 125.46,283.37 125.52,282.69 125.58,282.00 125.65,281.31 125.73,280.62 125.81,279.93 125.90,279.25 125.99,278.56 126.09,277.87 126.20,277.18 126.31,276.50 126.43,275.81 126.56,275.12 126.69,274.44 126.82,273.75 126.96,273.07 127.11,272.38 127.27,271.70 127.43,271.01 127.59,270.33 127.77,269.64 127.94,268.96 128.13,268.28 128.32,267.59 128.51,266.91 128.72,266.23 128.92,265.55 129.14,264.87 129.36,264.19 129.58,263.51 129.82,262.83 130.05,262.15 130.30,261.47 130.55,260.79 130.80,260.12 131.06,259.44 131.33,258.76 131.60,258.09 131.88,257.41 132.17,256.74 132.46,256.07 132.75,255.39 133.06,254.72 133.36,254.05 133.68,253.38 134.00,252.71 134.32,252.04 134.65,251.37 134.99,250.70 135.34,250.03 135.68,249.37 136.04,248.70 136.40,248.04 136.77,247.37 137.14,246.71 137.52,246.05 137.90,245.38 138.29,244.72 138.68,244.06 139.09,243.40 139.49,242.75 139.90,242.09 140.32,241.43 140.75,240.78 141.18,240.12 141.61,239.47 142.05,238.82 142.50,238.16 142.95,237.51 143.41,236.86 143.87,236.21 144.34,235.57 144.82,234.92 145.30,234.27 145.78,233.63 146.28,232.99 146.77,232.34 147.28,231.70 147.78,231.06 148.30,230.42 148.82,229.79 149.34,229.15 149.87,228.51 150.41,227.88 150.95,227.24 151.50,226.61 152.05,225.98 152.61,225.35 153.17,224.72 153.74,224.10 154.32,223.47 154.90,222.85 155.48,222.22 156.07,221.60 156.67,220.98 157.27,220.36 157.88,219.74 158.49,219.12 159.11,218.51 159.73,217.89 160.36,217.28 161.00,216.67 161.64,216.06 162.28,215.45 162.93,214.84 163.59,214.24 164.25,213.63 164.91,213.03 165.58,212.43 166.26,211.83 166.94,211.23 167.63,210.63 168.32,210.04 169.01,209.44 169.72,208.85 170.42,208.26 171.14,207.67 171.85,207.08 172.58,206.50 173.30,205.91 174.04,205.33 174.77,204.75 175.52,204.17 176.27,203.59 177.02,203.01 177.78,202.44 178.54,201.86 179.31,201.29 180.08,200.72 180.86,200.15 181.64,199.59 182.43,199.02 183.22,198.46 184.02,197.90 184.82,197.34 185.63,196.78 186.44,196.22 187.26,195.67 188.08,195.11 188.91,194.56 189.74,194.01 190.57,193.47 191.41,192.92 192.26,192.38 193.11,191.84 193.96,191.30 194.82,190.76 195.69,190.22 196.56,189.69 197.43,189.16 198.31,188.63 199.19,188.10 200.08,187.57 200.97,187.05 201.87,186.52 202.77,186.00 203.67,185.48 204.58,184.97 205.50,184.45 206.42,183.94 207.34,183.43 208.27,182.92 209.20,182.41 210.14,181.91 211.08,181.41 212.03,180.90 212.98,180.41 213.93,179.91 214.89,179.42 215.85,178.92 216.82,178.43 217.79,177.94 218.76,177.46 219.74,176.97 220.73,176.49 221.72,176.01 222.71,175.54 223.71,175.06 224.71,174.59 225.71,174.12 226.72,173.65 227.73,173.18 228.75,172.72 229.77,172.26 230.79,171.80 231.82,171.34 232.86,170.88 233.89,170.43 234.93,169.98 235.98,169.53 237.03,169.08 238.08,168.64 239.13,168.20 240.20,167.76 241.26,167.32 242.33,166.89 243.40,166.45 244.47,166.02 245.55,165.60 246.63,165.17 247.72,164.75 248.81,164.33 249.90,163.91 251.00,163.49 252.10,163.08 253.21,162.67 254.31,162.26 255.43,161.85 256.54,161.45 257.66,161.05"/>
<rect x="261.6" y="43.4" width="13.8" height="13.8" fill="#D98039" stroke="#CF6715" stroke-width="1"/><text x="292" y="59.5" textLength="63.10000000000002" lengthAdjust="spacingAndGlyphs">Other</text><text x="301.2" y="93.7" textLength="44.5" lengthAdjust="spacingAndGlyphs">10%</text><rect x="625.0" y="29.2" width="13.6" height="13.5" fill="#4571A6" stroke="#1F4F91" stroke-width="1"/><text x="657" y="45" textLength="130" lengthAdjust="spacingAndGlyphs">Compressor</text><text x="683.6" y="79" textLength="75.39999999999998" lengthAdjust="spacingAndGlyphs">station</text><text x="699" y="112" textLength="45" lengthAdjust="spacingAndGlyphs">12%</text><rect x="809.6" y="160.5" width="13.8" height="13.7" fill="#A84543" stroke="#8A1010" stroke-width="1"/><text x="840" y="176.6" textLength="151" lengthAdjust="spacingAndGlyphs">Meter station</text><text x="893" y="210" textLength="45" lengthAdjust="spacingAndGlyphs">18%</text><rect x="810.6" y="426.5" width="13.8" height="13.7" fill="#89A34C" stroke="#5E8C1B" stroke-width="1"/><text x="842" y="442" textLength="146.39999999999998" lengthAdjust="spacingAndGlyphs">Pump station</text><text x="899" y="475.4" textLength="32" lengthAdjust="spacingAndGlyphs">8%</text><rect x="707.6" y="495.5" width="13.8" height="13.7" fill="#72558F" stroke="#3F1F6B" stroke-width="1"/><text x="737.2" y="512.8" textLength="96.79999999999995" lengthAdjust="spacingAndGlyphs">Terminal</text><text x="770" y="545.9" textLength="32" lengthAdjust="spacingAndGlyphs">5%</text><rect x="19.8" y="470.2" width="13.6" height="13.5" fill="#3F93AD" stroke="#1A7592" stroke-width="1"/><text x="49.3" y="486.1" textLength="142.8" lengthAdjust="spacingAndGlyphs">Transmission</text><text x="102.9" y="519.7" textLength="37.79999999999998" lengthAdjust="spacingAndGlyphs">line</text><text x="98.3" y="552.6" textLength="46.60000000000001" lengthAdjust="spacingAndGlyphs">48%</text>
</svg></body></html>
